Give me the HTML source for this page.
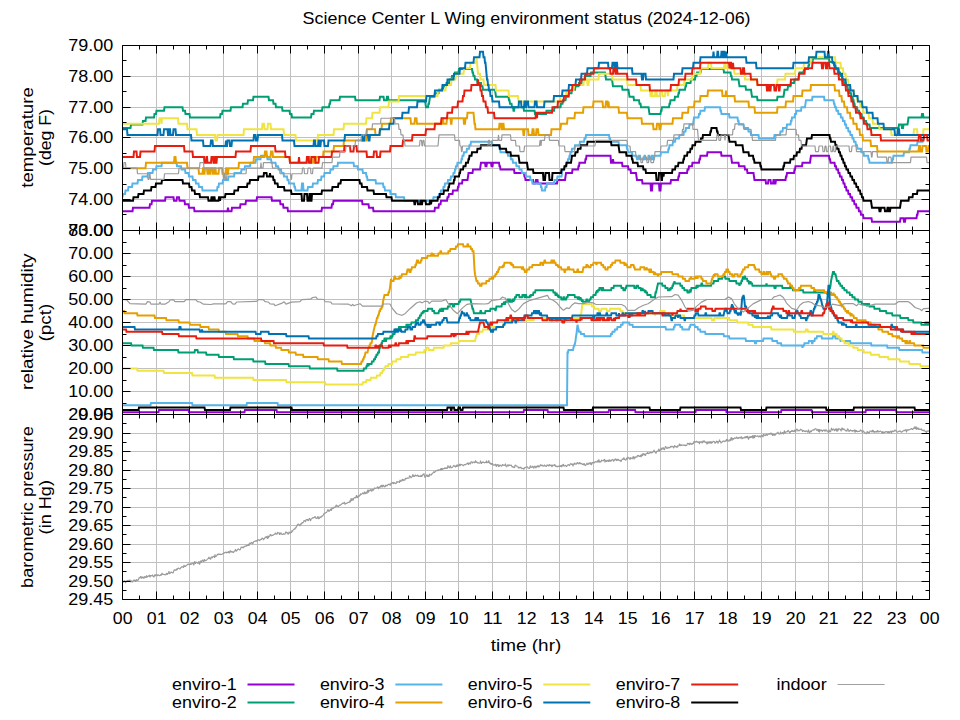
<!DOCTYPE html>
<html><head><meta charset="utf-8"><title>Science Center L Wing environment status</title>
<style>
html,body{margin:0;padding:0;background:#fff;}
body{width:960px;height:720px;overflow:hidden;font-family:"Liberation Sans",sans-serif;}
svg{display:block;}
svg text{font-family:"Liberation Sans",sans-serif;fill:#000;}
</style></head><body>
<svg width="960" height="720" viewBox="0 0 960 720">
<rect width="960" height="720" fill="#fff"/>
<path d="M156.5 45.5V230.5M189.5 45.5V230.5M223.5 45.5V230.5M257.5 45.5V230.5M290.5 45.5V230.5M324.5 45.5V230.5M358.5 45.5V230.5M391.5 45.5V230.5M425.5 45.5V230.5M458.5 45.5V230.5M492.5 45.5V230.5M526.5 45.5V230.5M559.5 45.5V230.5M593.5 45.5V230.5M627.5 45.5V230.5M660.5 45.5V230.5M694.5 45.5V230.5M727.5 45.5V230.5M761.5 45.5V230.5M795.5 45.5V230.5M828.5 45.5V230.5M862.5 45.5V230.5M896.5 45.5V230.5M122.5 76.5H929.5M122.5 107.5H929.5M122.5 137.5H929.5M122.5 168.5H929.5M122.5 199.5H929.5" stroke="#c0c0c0" stroke-width="1" fill="none"/>
<path d="M156.5 230.5V414.5M189.5 230.5V414.5M223.5 230.5V414.5M257.5 230.5V414.5M290.5 230.5V414.5M324.5 230.5V414.5M358.5 230.5V414.5M391.5 230.5V414.5M425.5 230.5V414.5M458.5 230.5V414.5M492.5 230.5V414.5M526.5 230.5V414.5M559.5 230.5V414.5M593.5 230.5V414.5M627.5 230.5V414.5M660.5 230.5V414.5M694.5 230.5V414.5M727.5 230.5V414.5M761.5 230.5V414.5M795.5 230.5V414.5M828.5 230.5V414.5M862.5 230.5V414.5M896.5 230.5V414.5M122.5 253.5H929.5M122.5 276.5H929.5M122.5 299.5H929.5M122.5 322.5H929.5M122.5 345.5H929.5M122.5 368.5H929.5M122.5 391.5H929.5" stroke="#c0c0c0" stroke-width="1" fill="none"/>
<path d="M156.5 414.5V599.5M189.5 414.5V599.5M223.5 414.5V599.5M257.5 414.5V599.5M290.5 414.5V599.5M324.5 414.5V599.5M358.5 414.5V599.5M391.5 414.5V599.5M425.5 414.5V599.5M458.5 414.5V599.5M492.5 414.5V599.5M526.5 414.5V599.5M559.5 414.5V599.5M593.5 414.5V599.5M627.5 414.5V599.5M660.5 414.5V599.5M694.5 414.5V599.5M727.5 414.5V599.5M761.5 414.5V599.5M795.5 414.5V599.5M828.5 414.5V599.5M862.5 414.5V599.5M896.5 414.5V599.5M122.5 433.5H929.5M122.5 451.5H929.5M122.5 470.5H929.5M122.5 488.5H929.5M122.5 507.5H929.5M122.5 525.5H929.5M122.5 544.5H929.5M122.5 562.5H929.5M122.5 581.5H929.5" stroke="#c0c0c0" stroke-width="1" fill="none"/>
<clipPath id="c1"><rect x="122.5" y="45.5" width="807" height="185"/></clipPath>
<clipPath id="c2"><rect x="122.5" y="230.5" width="807" height="184"/></clipPath>
<clipPath id="c3"><rect x="122.5" y="414.5" width="807" height="185"/></clipPath>
<g clip-path="url(#c1)">
<path d="M122.5 211.23H132.5L133 207.76H149.5L150 204.29H151.5L152 200.82H165L165.5 197.35H173.5L174 200.82H176.5L177 197.35H179L179.5 200.82H184.5L185 204.29H188.5L189 207.76H194L194.5 211.23H227.5L228 207.76H228L228.5 211.23H231.5L232 207.76H240L240.5 204.29H245.5L246 200.82H256.5L257 197.35H271.5L272 200.82H280L280.5 204.29H283L283.5 207.76H287.5L288 211.23H321.5L322 207.76H331.5L332 204.29H333L333.5 200.82H362L362.5 204.29H368.5L369 207.76H373L373.5 211.23H434.5L435 207.76H438.5L439 204.29H440.5L441 200.82H447L447.5 197.35H448.5L449 193.89H452.5L453 190.42H457.5L458 186.95H458.5L459 183.48H462L462.5 180.01H467.5L468 176.54H468L468.5 173.07H472.5L473 169.6H480L480.5 166.14H480.5L481 162.67H485L485.5 166.14H486.5L487 162.67H491L491.5 166.14H492.5L493 162.67H499L499.5 166.14H500L500.5 169.6H514L514.5 173.07H524L524.5 176.54H525L525.5 180.01H533L533.5 183.48H535.5L536 180.01H537.5L538 183.48H557L557.5 180.01H565L565.5 176.54H565.5L566 173.07H572L572.5 169.6H578L578.5 166.14H579L579.5 162.67H585L585.5 159.2H586L586.5 155.73H610.5L611 162.67H612.5L613 159.2H613L613.5 162.67H622L622.5 166.14H628L628.5 169.6H630.5L631 173.07H636L636.5 176.54H636.5L637 180.01H642L642.5 183.48H650.5L651 190.42H652L652.5 183.48H659L659.5 190.42H660.5L661 183.48H670.5L671 180.01H678L678.5 176.54H679L679.5 173.07H687L687.5 169.6H688.5L689 166.14H692L692.5 162.67H699L699.5 159.2H700L700.5 155.73H707L707.5 152.26H721L721.5 155.73H731L731.5 159.2H731.5L732 162.67H738.5L739 166.14H744.5L745 169.6H747L747.5 173.07H753.5L754 176.54H754L754.5 180.01H765.5L766 183.48H768L768.5 180.01H770.5L771 183.48H773L773.5 180.01H774L774.5 183.48H775.5L776 180.01H785.5L786 176.54H786.5L787 173.07H794L794.5 169.6H795L795.5 166.14H802L802.5 162.67H810L810.5 159.2H810.5L811 155.73H829L829.5 159.2H830L830.5 162.67H834.5L835 166.14H836L836.5 169.6H838L838.5 173.07H839.5L840 176.54H841.5L842 180.01H843L843.5 183.48H844.5L845 186.95H846L846.5 190.42H848L848.5 193.89H850L850.5 197.35H852L852.5 200.82H854L854.5 204.29H856L856.5 207.76H858.5L859 211.23H860.5L861 214.7H863L863.5 218.17H871.5L872 221.64H900L900.5 218.17H903.5L904 221.64H905L905.5 218.17H916.5L917 214.7H917.5L918 211.23H929.5" stroke="#9400d3" stroke-width="2" fill="none" stroke-linejoin="miter" stroke-linecap="butt"/>
<path d="M122.5 127.98H130.5L131 124.51H142.5L143 121.04H145.5L146 117.57H154L154.5 114.1H156L156.5 110.64H164L164.5 107.17H182.5L183 110.64H185L185.5 114.1H189.5L190 117.57H220L220.5 114.1H222L222.5 110.64H230.5L231 107.17H242.5L243 103.7H247.5L248 100.23H253L253.5 96.76H268.5L269 100.23H273L273.5 103.7H275.5L276 107.17H282L282.5 110.64H289.5L290 114.1H291.5L292 117.57H311L311.5 114.1H313.5L314 110.64H322L322.5 107.17H329L329.5 103.7H330L330.5 100.23H339.5L340 96.76H355L355.5 100.23H379.5L380 96.76H383.5L384 100.23H386.5L387 96.76H388L388.5 100.23H425L425.5 103.7H425.5L426 107.17H428L428.5 103.7H429L429.5 100.23H429.5L430 96.76H434.5L435 93.29H438.5L439 89.82H443L443.5 86.35H446L446.5 82.89H449L449.5 79.42H451.5L452 75.95H454.5L455 72.48H458.5L459 69.01H472L472.5 72.48H473L473.5 75.95H474.5L475 79.42H477L477.5 82.89H481L481.5 86.35H482.5L483 89.82H495L495.5 93.29H495.5L496 96.76H508.5L509 100.23H509.5L510 103.7H511.5L512 107.17H513L513.5 110.64H514L514.5 107.17H523.5L524 110.64H534.5L535 114.1H546L546.5 110.64H554L554.5 107.17H560.5L561 103.7H562.5L563 100.23H565.5L566 96.76H568.5L569 93.29H571.5L572 89.82H575L575.5 86.35H578.5L579 82.89H581.5L582 79.42H584.5L585 75.95H590.5L591 72.48H605L605.5 75.95H605.5L606 79.42H612L612.5 82.89H612.5L613 86.35H622L622.5 89.82H628.5L629 93.29H629L629.5 96.76H633.5L634 100.23H639L639.5 103.7H640.5L641 107.17H648.5L649 110.64H649L649.5 114.1H660.5L661 110.64H661.5L662 107.17H669L669.5 103.7H670L670.5 100.23H674.5L675 96.76H678L678.5 93.29H679L679.5 89.82H685L685.5 86.35H686L686.5 82.89H690.5L691 79.42H695L695.5 75.95H696.5L697 72.48H700.5L701 69.01H723.5L724 72.48H730.5L731 75.95H731.5L732 79.42H738.5L739 82.89H739L739.5 86.35H745.5L746 89.82H751L751.5 93.29H751.5L752 96.76H757L757.5 100.23H777L777.5 96.76H783.5L784 93.29H784L784.5 89.82H787.5L788 86.35H790.5L791 82.89H794L794.5 79.42H798.5L799 75.95H799L799.5 72.48H803.5L804 69.01H808L808.5 65.54H809L809.5 62.07H812.5L813 58.6H829L829.5 62.07H833.5L834 65.54H835.5L836 69.01H837.5L838 72.48H840L840.5 75.95H842L842.5 79.42H843.5L844 82.89H845.5L846 86.35H847.5L848 89.82H849.5L850 93.29H851L851.5 96.76H852.5L853 100.23H853.5L854 103.7H854.5L855 107.17H857L857.5 110.64H859L859.5 114.1H861.5L862 117.57H863.5L864 121.04H866L866.5 124.51H869.5L870 127.98H898.5L899 124.51H901.5L902 127.98H903L903.5 124.51H907.5L908 121.04H908L908.5 117.57H921.5L922 114.1H923L923.5 117.57H929.5" stroke="#009e73" stroke-width="2" fill="none" stroke-linejoin="miter" stroke-linecap="butt"/>
<path d="M122.5 197.35H122.5L123 193.89H125L125.5 190.42H128L128.5 186.95H132L132.5 183.48H137.5L138 180.01H142L142.5 176.54H147.5L148 173.07H152.5L153 169.6H156L156.5 166.14H161.5L162 162.67H176.5L177 166.14H181L181.5 169.6H185L185.5 173.07H188.5L189 176.54H192.5L193 180.01H195.5L196 183.48H198.5L199 186.95H202L202.5 190.42H217L217.5 186.95H218.5L219 183.48H222.5L223 180.01H228L228.5 176.54H234L234.5 173.07H241L241.5 169.6H244.5L245 166.14H250L250.5 162.67H255.5L256 159.2H260.5L261 155.73H267L267.5 159.2H271L271.5 162.67H275.5L276 166.14H278L278.5 169.6H281L281.5 173.07H283.5L284 176.54H287L287.5 180.01H288.5L289 183.48H294L294.5 186.95H295L295.5 190.42H301.5L302 183.48H303L303.5 190.42H307.5L308 186.95H312.5L313 183.48H317.5L318 180.01H321L321.5 176.54H324L324.5 173.07H330L330.5 169.6H333L333.5 166.14H337.5L338 162.67H353.5L354 166.14H357.5L358 169.6H362.5L363 173.07H366L366.5 176.54H367L367.5 180.01H375.5L376 183.48H383L383.5 186.95H384.5L385 190.42H390L390.5 193.89H395.5L396 197.35H404L404.5 200.82H433L433.5 197.35H438.5L439 193.89H440.5L441 190.42H443L443.5 186.95H444.5L445 183.48H447.5L448 180.01H450.5L451 176.54H453L453.5 173.07H454.5L455 169.6H455.5L456 166.14H457L457.5 162.67H461L461.5 159.2H462L462.5 155.73H463.5L464 152.26H466.5L467 148.79H469L469.5 145.32H470.5L471 141.85H492L492.5 145.32H499L499.5 148.79H500L500.5 152.26H507.5L508 155.73H510.5L511 159.2H512.5L513 162.67H516L516.5 166.14H519L519.5 169.6H521.5L522 173.07H525.5L526 176.54H530L530.5 180.01H532L532.5 183.48H540.5L541 186.95H541.5L542 190.42H545L545.5 186.95H546.5L547 183.48H554L554.5 180.01H557L557.5 176.54H561.5L562 173.07H562L562.5 169.6H564.5L565 166.14H566.5L567 162.67H567.5L568 159.2H569L569.5 155.73H570L570.5 152.26H571.5L572 148.79H574.5L575 145.32H579.5L580 141.85H584L584.5 138.39H585.5L586 134.92H609L609.5 138.39H610L610.5 141.85H618.5L619 145.32H626.5L627 148.79H627.5L628 152.26H632L632.5 155.73H636.5L637 159.2H638.5L639 155.73H640L640.5 159.2H644L644.5 155.73H645L645.5 159.2H648L648.5 155.73H649.5L650 159.2H651.5L652 155.73H652.5L653 159.2H654L654.5 155.73H660.5L661 152.26H668L668.5 148.79H669L669.5 145.32H672.5L673 141.85H675L675.5 138.39H679L679.5 134.92H683.5L684 131.45H685.5L686 127.98H689L689.5 124.51H693L693.5 121.04H693.5L694 117.57H698.5L699 114.1H700L700.5 110.64H704.5L705 107.17H720L720.5 110.64H721L721.5 114.1H729L729.5 117.57H737.5L738 121.04H738.5L739 124.51H743.5L744 127.98H748L748.5 131.45H750.5L751 134.92H758.5L759 138.39H774L774.5 134.92H780L780.5 131.45H782.5L783 127.98H786.5L787 124.51H790.5L791 121.04H791.5L792 117.57H794.5L795 114.1H796L796.5 110.64H801L801.5 107.17H805L805.5 103.7H805.5L806 100.23H812L812.5 96.76H824L824.5 100.23H833.5L834 103.7H834.5L835 107.17H836L836.5 110.64H838L838.5 114.1H840.5L841 117.57H842.5L843 121.04H844.5L845 124.51H846L846.5 127.98H848L848.5 131.45H850L850.5 134.92H852L852.5 138.39H853.5L854 141.85H855.5L856 145.32H857L857.5 148.79H861L861.5 152.26H863.5L864 155.73H868L868.5 159.2H869L869.5 162.67H892L892.5 159.2H893L893.5 155.73H903.5L904 152.26H909L909.5 148.79H910L910.5 145.32H917L917.5 141.85H922.5L923 138.39H924L924.5 134.92H929.5" stroke="#56b4e9" stroke-width="2" fill="none" stroke-linejoin="miter" stroke-linecap="butt"/>
<path d="M122.5 168.22H145.5L146 162.67H174L174.5 157.12H175.5L176 162.67H187L187.5 168.22H198.5L199 173.77H202.5L203 168.22H203.5L204 173.77H204.5L205 168.22H207L207.5 173.77H208L208.5 168.22H209L209.5 173.77H210.5L211 168.22H212.5L213 173.77H214L214.5 168.22H215.5L216 173.77H218.5L219 168.22H222L222.5 173.77H225.5L226 168.22H227L227.5 173.77H228L228.5 168.22H238.5L239 162.67H253.5L254 157.12H264.5L265 151.57H266.5L267 157.12H270.5L271 151.57H272.5L273 157.12H289.5L290 162.67H307L307.5 157.12H309.5L310 162.67H313L313.5 157.12H314.5L315 162.67H315.5L316 157.12H323L323.5 151.57H333.5L334 146.02H343.5L344 140.47H366L366.5 134.92H366.5L367 129.37H375L375.5 134.92H379.5L380 129.37H381.5L382 123.82H390.5L391 118.27H410.5L411 123.82H414.5L415 118.27H416.5L417 123.82H441.5L442 118.27H443L443.5 123.82H446.5L447 118.27H450.5L451 123.82H451.5L452 118.27H463.5L464 123.82H465L465.5 118.27H467L467.5 112.72H473.5L474 118.27H474L474.5 123.82H475L475.5 129.37H499L499.5 123.82H501L501.5 129.37H502.5L503 123.82H503.5L504 129.37H523L523.5 134.92H524L524.5 129.37H528L528.5 134.92H532L532.5 129.37H533.5L534 134.92H536L536.5 129.37H538L538.5 134.92H551L551.5 129.37H560.5L561 123.82H567L567.5 118.27H574.5L575 112.72H583L583.5 107.17H593L593.5 101.62H602.5L603 107.17H605.5L606 101.62H607.5L608 107.17H608L608.5 101.62H608.5L609 107.17H618.5L619 112.72H627L627.5 118.27H641.5L642 123.82H653L653.5 129.37H656.5L657 123.82H659L659.5 129.37H660.5L661 123.82H672.5L673 118.27H682L682.5 112.72H688L688.5 107.17H694L694.5 101.62H700L700.5 96.07H707.5L708 90.52H722L722.5 96.07H725.5L726 90.52H726L726.5 96.07H734.5L735 101.62H748.5L749 107.17H754.5L755 112.72H777L777.5 107.17H785.5L786 101.62H793L793.5 96.07H802L802.5 90.52H810.5L811 84.97H834.5L835 90.52H839L839.5 96.07H841.5L842 101.62H844L844.5 107.17H847L847.5 112.72H850L850.5 118.27H853L853.5 123.82H856.5L857 129.37H859.5L860 134.92H862.5L863 140.47H870.5L871 146.02H877L877.5 151.57H918.5L919 146.02H920L920.5 151.57H922L922.5 146.02H926L926.5 151.57H928L928.5 146.02H929.5" stroke="#e69f00" stroke-width="2" fill="none" stroke-linejoin="miter" stroke-linecap="butt"/>
<path d="M122.5 123.82H159L159.5 118.27H161L161.5 123.82H161.5L162 118.27H178L178.5 123.82H187L187.5 129.37H196.5L197 134.92H215L215.5 140.47H217L217.5 134.92H243.5L244 129.37H262L262.5 123.82H264L264.5 129.37H267.5L268 123.82H270.5L271 129.37H283.5L284 134.92H295.5L296 140.47H317.5L318 134.92H333.5L334 129.37H343.5L344 123.82H366L366.5 118.27H372L372.5 112.72H379.5L380 107.17H388.5L389 101.62H398.5L399 96.07H437.5L438 90.52H445.5L446 84.97H451L451.5 79.42H455.5L456 73.87H463.5L464 68.32H470L470.5 62.77H476L476.5 57.22H476.5L477 62.77H477L477.5 68.32H477.5L478 73.87H480L480.5 79.42H483.5L484 84.97H495.5L496 90.52H508.5L509 96.07H518L518.5 101.62H560L560.5 96.07H566L566.5 90.52H573.5L574 84.97H583.5L584 79.42H587L587.5 84.97H588.5L589 79.42H598.5L599 73.87H612L612.5 79.42H627L627.5 84.97H640.5L641 90.52H650L650.5 96.07H651.5L652 90.52H652L652.5 96.07H655L655.5 90.52H656.5L657 96.07H659.5L660 90.52H662L662.5 96.07H665L665.5 90.52H667.5L668 96.07H668L668.5 90.52H677L677.5 84.97H684L684.5 79.42H692L692.5 73.87H700L700.5 68.32H708L708.5 62.77H711L711.5 68.32H724L724.5 62.77H725.5L726 68.32H734L734.5 73.87H744.5L745 79.42H757L757.5 84.97H777L777.5 79.42H785L785.5 73.87H795L795.5 68.32H803.5L804 62.77H811L811.5 57.22H835L835.5 62.77H840.5L841 68.32H843L843.5 73.87H845.5L846 79.42H848L848.5 84.97H850.5L851 90.52H854L854.5 96.07H857L857.5 101.62H860L860.5 107.17H863L863.5 112.72H868.5L869 118.27H872.5L873 123.82H879L879.5 129.37H891L891.5 134.92H913.5L914 129.37H917L917.5 134.92H923L923.5 129.37H929.5" stroke="#f0e442" stroke-width="2" fill="none" stroke-linejoin="miter" stroke-linecap="butt"/>
<path d="M122.5 129.37H127L127.5 134.92H157.5L158 129.37H160L160.5 134.92H163.5L164 129.37H167.5L168 134.92H168.5L169 129.37H170L170.5 134.92H173L173.5 129.37H175.5L176 134.92H191L191.5 140.47H203L203.5 146.02H210.5L211 140.47H212.5L213 146.02H225.5L226 140.47H226L226.5 146.02H227L227.5 140.47H229.5L230 146.02H231.5L232 140.47H253.5L254 134.92H255.5L256 140.47H257.5L258 134.92H282L282.5 140.47H294L294.5 146.02H313.5L314 140.47H315L315.5 146.02H318L318.5 140.47H319L319.5 146.02H320.5L321 140.47H324L324.5 146.02H328L328.5 140.47H344.5L345 134.92H362L362.5 140.47H364L364.5 134.92H368L368.5 140.47H369.5L370 134.92H379.5L380 129.37H389L389.5 123.82H393.5L394 118.27H402L402.5 112.72H408.5L409 107.17H417L417.5 101.62H426L426.5 96.07H434.5L435 90.52H442L442.5 84.97H447L447.5 79.42H453.5L454 73.87H459.5L460 68.32H465L465.5 62.77H473.5L474 57.22H479.5L480 51.67H483L483.5 57.22H484.5L485 62.77H485.5L486 68.32H486L486.5 73.87H486.5L487 79.42H487.5L488 84.97H488.5L489 90.52H490L490.5 96.07H492L492.5 101.62H499L499.5 107.17H518.5L519 101.62H521L521.5 107.17H524L524.5 101.62H525L525.5 107.17H526L526.5 101.62H528L528.5 107.17H534.5L535 101.62H536.5L537 107.17H544L544.5 101.62H553.5L554 96.07H562L562.5 90.52H568.5L569 84.97H575.5L576 79.42H581L581.5 73.87H587L587.5 68.32H598.5L599 62.77H608L608.5 68.32H612L612.5 62.77H614L614.5 68.32H615.5L616 62.77H617L617.5 68.32H632L632.5 73.87H641.5L642 79.42H643L643.5 73.87H645.5L646 79.42H673.5L674 73.87H682L682.5 68.32H693L693.5 62.77H700L700.5 57.22H713L713.5 51.67H713.5L714 57.22H717L717.5 51.67H718L718.5 57.22H721L721.5 51.67H722.5L723 57.22H723.5L724 51.67H724.5L725 57.22H725.5L726 51.67H726L726.5 57.22H746L746.5 62.77H756L756.5 68.32H793L793.5 62.77H808.5L809 57.22H816L816.5 51.67H824.5L825 57.22H827.5L828 51.67H828.5L829 57.22H832L832.5 62.77H834.5L835 68.32H838.5L839 73.87H842L842.5 79.42H845.5L846 84.97H850L850.5 90.52H853.5L854 96.07H857.5L858 101.62H862L862.5 107.17H866.5L867 112.72H872.5L873 118.27H877.5L878 123.82H883.5L884 129.37H894.5L895 134.92H897.5L898 129.37H899L899.5 134.92H929.5" stroke="#0072b2" stroke-width="2" fill="none" stroke-linejoin="miter" stroke-linecap="butt"/>
<path d="M122.5 157.12H133.5L134 151.57H136.5L137 157.12H140L140.5 151.57H154.5L155 146.02H184L184.5 151.57H192.5L193 157.12H204L204.5 162.67H206L206.5 157.12H207L207.5 162.67H211L211.5 157.12H213L213.5 162.67H214.5L215 157.12H215.5L216 162.67H216.5L217 157.12H235.5L236 151.57H250.5L251 146.02H275L275.5 151.57H285L285.5 157.12H289.5L290 162.67H298.5L299 157.12H299L299.5 162.67H306.5L307 157.12H308.5L309 162.67H311L311.5 157.12H315L315.5 162.67H318.5L319 157.12H331.5L332 151.57H344L344.5 146.02H350L350.5 151.57H353.5L354 146.02H356.5L357 151.57H366.5L367 157.12H373.5L374 151.57H376.5L377 157.12H380L380.5 151.57H390L390.5 146.02H402.5L403 140.47H412L412.5 134.92H425.5L426 129.37H434.5L435 123.82H441L441.5 118.27H447L447.5 112.72H452L452.5 107.17H457.5L458 101.62H462.5L463 96.07H464L464.5 90.52H471L471.5 84.97H477.5L478 79.42H478L478.5 84.97H480L480.5 90.52H481.5L482 96.07H483L483.5 101.62H485.5L486 107.17H487.5L488 112.72H494L494.5 118.27H535.5L536 112.72H536.5L537 118.27H537L537.5 112.72H552L552.5 107.17H557.5L558 101.62H563.5L564 96.07H568.5L569 90.52H572L572.5 84.97H579.5L580 79.42H585L585.5 73.87H593.5L594 68.32H610L610.5 73.87H613L613.5 68.32H615L615.5 73.87H616.5L617 68.32H617L617.5 73.87H627L627.5 79.42H636L636.5 84.97H649.5L650 90.52H670.5L671 84.97H678.5L679 79.42H685L685.5 73.87H692L692.5 68.32H700L700.5 62.77H729L729.5 68.32H729.5L730 62.77H731L731.5 68.32H732.5L733 62.77H733L733.5 68.32H740.5L741 73.87H742.5L743 68.32H744L744.5 73.87H750.5L751 79.42H757L757.5 84.97H766.5L767 90.52H767.5L768 84.97H769L769.5 90.52H770.5L771 84.97H774L774.5 90.52H776L776.5 84.97H778.5L779 90.52H779.5L780 84.97H790.5L791 79.42H798.5L799 73.87H804.5L805 68.32H812L812.5 62.77H821.5L822 68.32H823L823.5 62.77H825.5L826 68.32H827L827.5 62.77H829L829.5 68.32H834L834.5 73.87H838.5L839 79.42H842L842.5 84.97H845.5L846 90.52H848L848.5 96.07H851L851.5 101.62H853L853.5 107.17H855.5L856 112.72H860L860.5 118.27H863.5L864 123.82H867L867.5 129.37H871L871.5 134.92H880.5L881 140.47H918.5L919 134.92H920.5L921 140.47H923.5L924 134.92H927L927.5 140.47H929.5" stroke="#e51e10" stroke-width="2" fill="none" stroke-linejoin="miter" stroke-linecap="butt"/>
<path d="M122.5 200.82H133L133.5 197.35H138L138.5 193.89H143.5L144 190.42H151L151.5 186.95H155.5L156 183.48H161.5L162 180.01H182.5L183 183.48H189L189.5 186.95H191.5L192 190.42H194.5L195 193.89H199.5L200 197.35H208L208.5 200.82H211L211.5 197.35H212L212.5 200.82H213L213.5 197.35H214.5L215 200.82H218.5L219 197.35H219.5L220 200.82H220L220.5 197.35H225L225.5 193.89H234L234.5 190.42H238L238.5 186.95H247L247.5 183.48H249.5L250 180.01H258L258.5 176.54H263.5L264 173.07H266.5L267 176.54H269.5L270 173.07H270L270.5 176.54H273L273.5 180.01H274.5L275 183.48H277.5L278 186.95H284L284.5 190.42H291L291.5 193.89H301.5L302 200.82H304L304.5 193.89H307L307.5 200.82H309L309.5 193.89H310.5L311 200.82H311.5L312 193.89H321.5L322 190.42H332L332.5 186.95H338L338.5 183.48H340.5L341 180.01H359.5L360 183.48H361.5L362 186.95H367L367.5 190.42H373.5L374 193.89H386L386.5 197.35H391.5L392 200.82H414L414.5 204.29H415L415.5 200.82H417.5L418 204.29H420L420.5 200.82H421L421.5 204.29H422L422.5 200.82H425.5L426 204.29H429.5L430 200.82H430.5L431 204.29H431L431.5 200.82H437.5L438 197.35H439.5L440 193.89H443.5L444 190.42H448L448.5 186.95H449L449.5 183.48H453.5L454 180.01H454.5L455 176.54H459L459.5 173.07H460L460.5 169.6H463L463.5 166.14H465.5L466 162.67H468L468.5 159.2H469L469.5 155.73H471.5L472 152.26H477L477.5 148.79H480.5L481 145.32H499.5L500 148.79H506L506.5 152.26H510.5L511 155.73H518.5L519 159.2H519L519.5 162.67H527L527.5 166.14H527.5L528 169.6H533L533.5 173.07H543L543.5 180.01H545L545.5 173.07H549L549.5 180.01H552L552.5 173.07H561L561.5 169.6H564L564.5 166.14H566L566.5 162.67H571L571.5 159.2H571.5L572 155.73H575L575.5 152.26H577.5L578 148.79H580.5L581 145.32H587L587.5 141.85H611L611.5 145.32H618.5L619 148.79H619L619.5 152.26H626L626.5 155.73H631.5L632 159.2H632.5L633 162.67H637.5L638 166.14H643L643.5 169.6H645.5L646 173.07H656L656.5 180.01H658.5L659 173.07H661L661.5 180.01H662L662.5 173.07H663L663.5 176.54H663.5L664 173.07H672L672.5 169.6H675L675.5 166.14H678L678.5 162.67H683L683.5 159.2H684L684.5 155.73H687L687.5 152.26H690L690.5 148.79H692L692.5 145.32H695L695.5 141.85H700.5L701 138.39H702.5L703 134.92H710L710.5 131.45H711L711.5 127.98H716.5L717 131.45H717.5L718 134.92H728.5L729 138.39H729L729.5 141.85H735.5L736 145.32H742.5L743 148.79H743L743.5 152.26H748.5L749 155.73H753L753.5 159.2H754L754.5 162.67H760L760.5 166.14H761L761.5 169.6H783L783.5 166.14H784L784.5 162.67H790L790.5 159.2H793.5L794 155.73H796.5L797 152.26H799.5L800 148.79H801.5L802 145.32H806L806.5 141.85H806.5L807 138.39H811.5L812 134.92H829.5L830 138.39H830.5L831 141.85H835L835.5 145.32H836.5L837 148.79H838.5L839 152.26H840L840.5 155.73H841.5L842 159.2H843L843.5 162.67H844.5L845 166.14H846L846.5 169.6H848L848.5 173.07H850L850.5 176.54H852L852.5 180.01H854L854.5 183.48H856L856.5 186.95H858L858.5 190.42H860L860.5 193.89H861.5L862 197.35H863L863.5 200.82H871L871.5 204.29H871.5L872 207.76H879L879.5 211.23H880.5L881 207.76H884.5L885 211.23H887L887.5 207.76H888.5L889 211.23H890L890.5 207.76H900L900.5 204.29H900.5L901 200.82H908.5L909 197.35H912.5L913 193.89H917L917.5 190.42H929.5" stroke="#000000" stroke-width="2" fill="none" stroke-linejoin="miter" stroke-linecap="butt"/>
<path d="M122.5 168.22H123.5L124 162.67H125.5L126 168.22H137L137.5 173.77H147.5L148 179.32H149L149.5 173.77H150L150.5 179.32H164L164.5 173.77H178.5L179 168.22H199.5L200 162.67H203.5L204 168.22H222.5L223 173.77H223L223.5 179.32H224L224.5 173.77H225L225.5 179.32H226.5L227 173.77H246L246.5 168.22H260.5L261 162.67H261L261.5 168.22H263L263.5 162.67H272L272.5 168.22H279.5L280 173.77H290.5L291 179.32H291.5L292 173.77H302L302.5 168.22H304L304.5 173.77H307.5L308 168.22H310.5L311 173.77H312.5L313 168.22H322L322.5 162.67H332L332.5 157.12H339.5L340 151.57H345.5L346 146.02H355L355.5 140.47H361L361.5 134.92H366L366.5 129.37H372L372.5 123.82H380.5L381 118.27H394.5L395 123.82H398.5L399 129.37H400.5L401 134.92H403L403.5 140.47H404.5L405 146.02H419.5L420 140.47H421.5L422 146.02H422.5L423 140.47H424L424.5 146.02H438L438.5 140.47H438.5L439 134.92H454.5L455 140.47H459.5L460 146.02H461L461.5 151.57H462L462.5 146.02H488L488.5 140.47H489.5L490 146.02H491.5L492 140.47H498L498.5 134.92H498.5L499 140.47H501.5L502 134.92H510.5L511 140.47H515.5L516 146.02H519.5L520 151.57H524L524.5 146.02H539.5L540 140.47H540.5L541 146.02H541L541.5 140.47H544.5L545 134.92H549L549.5 140.47H558.5L559 146.02H564.5L565 151.57H574.5L575 146.02H595L595.5 140.47H627L627.5 146.02H630L630.5 151.57H635.5L636 157.12H640.5L641 162.67H642.5L643 157.12H646.5L647 162.67H648.5L649 157.12H650.5L651 162.67H653.5L654 157.12H654.5L655 151.57H660.5L661 146.02H667L667.5 140.47H673.5L674 134.92H682L682.5 129.37H683.5L684 123.82H692.5L693 129.37H697.5L698 134.92H698L698.5 140.47H716.5L717 134.92H718.5L719 140.47H720.5L721 134.92H724.5L725 140.47H725L725.5 134.92H732.5L733 129.37H734.5L735 123.82H743.5L744 129.37H751L751.5 134.92H752L752.5 140.47H775.5L776 134.92H786L786.5 129.37H796L796.5 134.92H798.5L799 140.47H801L801.5 146.02H815L815.5 151.57H818.5L819 146.02H822.5L823 151.57H824.5L825 146.02H826L826.5 151.57H828L828.5 146.02H830.5L831 151.57H832.5L833 146.02H833.5L834 151.57H835.5L836 146.02H849L849.5 151.57H851.5L852 146.02H856L856.5 151.57H871L871.5 157.12H872L872.5 151.57H877L877.5 157.12H886.5L887 162.67H888L888.5 157.12H891L891.5 162.67H910.5L911 157.12H926.5L927 162.67H929.5" stroke="#9a9a9a" stroke-width="1.2" fill="none" stroke-linejoin="bevel" stroke-linecap="butt"/>
</g>
<path d="M122.5 230.5v-8M122.5 45.5v8M139.5 230.5v-4M139.5 45.5v4M156.5 230.5v-8M156.5 45.5v8M173.5 230.5v-4M173.5 45.5v4M189.5 230.5v-8M189.5 45.5v8M206.5 230.5v-4M206.5 45.5v4M223.5 230.5v-8M223.5 45.5v8M240.5 230.5v-4M240.5 45.5v4M257.5 230.5v-8M257.5 45.5v8M274.5 230.5v-4M274.5 45.5v4M290.5 230.5v-8M290.5 45.5v8M307.5 230.5v-4M307.5 45.5v4M324.5 230.5v-8M324.5 45.5v8M341.5 230.5v-4M341.5 45.5v4M358.5 230.5v-8M358.5 45.5v8M374.5 230.5v-4M374.5 45.5v4M391.5 230.5v-8M391.5 45.5v8M408.5 230.5v-4M408.5 45.5v4M425.5 230.5v-8M425.5 45.5v8M442.5 230.5v-4M442.5 45.5v4M458.5 230.5v-8M458.5 45.5v8M475.5 230.5v-4M475.5 45.5v4M492.5 230.5v-8M492.5 45.5v8M509.5 230.5v-4M509.5 45.5v4M526.5 230.5v-8M526.5 45.5v8M543.5 230.5v-4M543.5 45.5v4M559.5 230.5v-8M559.5 45.5v8M576.5 230.5v-4M576.5 45.5v4M593.5 230.5v-8M593.5 45.5v8M610.5 230.5v-4M610.5 45.5v4M627.5 230.5v-8M627.5 45.5v8M643.5 230.5v-4M643.5 45.5v4M660.5 230.5v-8M660.5 45.5v8M677.5 230.5v-4M677.5 45.5v4M694.5 230.5v-8M694.5 45.5v8M711.5 230.5v-4M711.5 45.5v4M727.5 230.5v-8M727.5 45.5v8M744.5 230.5v-4M744.5 45.5v4M761.5 230.5v-8M761.5 45.5v8M778.5 230.5v-4M778.5 45.5v4M795.5 230.5v-8M795.5 45.5v8M812.5 230.5v-4M812.5 45.5v4M828.5 230.5v-8M828.5 45.5v8M845.5 230.5v-4M845.5 45.5v4M862.5 230.5v-8M862.5 45.5v8M879.5 230.5v-4M879.5 45.5v4M896.5 230.5v-8M896.5 45.5v8M912.5 230.5v-4M912.5 45.5v4M929.5 230.5v-8M929.5 45.5v8M122.5 45.5h8M929.5 45.5h-8M122.5 76.5h8M929.5 76.5h-8M122.5 107.5h8M929.5 107.5h-8M122.5 137.5h8M929.5 137.5h-8M122.5 168.5h8M929.5 168.5h-8M122.5 199.5h8M929.5 199.5h-8M122.5 230.5h8M929.5 230.5h-8M122.5 214.5h4M929.5 214.5h-4M122.5 184.5h4M929.5 184.5h-4M122.5 153.5h4M929.5 153.5h-4M122.5 122.5h4M929.5 122.5h-4M122.5 91.5h4M929.5 91.5h-4M122.5 60.5h4M929.5 60.5h-4M122.5 45.5H929.5V230.5H122.5Z" stroke="#000" stroke-width="1" fill="none"/>
<g clip-path="url(#c2)">
<path d="M122.5 412.2H158.5L159 409.9H188.5L189 412.2H244.5L245 409.9H276.5L277 412.2H523.5L524 409.9H547.5L548 412.2H608.5L609 409.9H635L635.5 412.2H695.5L696 409.9H726L726.5 412.2H781L781.5 409.9H811.5L812 412.2H865.5L866 409.9H896L896.5 412.2H929.5" stroke="#9400d3" stroke-width="2" fill="none" stroke-linejoin="miter" stroke-linecap="butt"/>
<path d="M122.5 343.2H131L131.5 345.5H142.5L143 347.8H153.5L154 350.1H178L178.5 352.4H194.5L195 350.1H197.5L198 352.4H206L206.5 354.7H218.5L219 357H233.5L234 359.3H253L253.5 361.6H265L265.5 363.9H288.5L289 366.2H309.5L310 368.5H337L337.5 370.8H363.5L364 368.5H366L366.5 366.2H367L367.5 363.9H368L368.5 366.2H368.5L369 363.9H371.5L372 361.6H373.5L374 359.3H375L375.5 357H376L376.5 354.7H377.5L378 352.4H379L379.5 347.8H380L380.5 345.5H381L381.5 343.2H382L382.5 340.9H384L384.5 338.6H385L385.5 340.9H386L386.5 338.6H390L390.5 336.3H391L391.5 338.6H391.5L392 336.3H392.5L393 334H394.5L395 331.7H395L395.5 329.4H396L396.5 331.7H396.5L397 329.4H398.5L399 327.1H400L400.5 329.4H400.5L401 327.1H406L406.5 324.8H407L407.5 327.1H408L408.5 324.8H411L411.5 322.5H415.5L416 320.2H418L418.5 317.9H419.5L420 315.6H421L421.5 313.3H422.5L423 311H423L423.5 313.3H423.5L424 311H427.5L428 308.7H432L432.5 311H434L434.5 313.3H438.5L439 311H439.5L440 308.7H440L440.5 311H441L441.5 308.7H442L442.5 311H443L443.5 308.7H447.5L448 306.4H449.5L450 304.1H452.5L453 306.4H454L454.5 304.1H458.5L459 301.8H460L460.5 299.5H470.5L471 301.8H471L471.5 304.1H471.5L472 306.4H472L472.5 308.7H473L473.5 311H473.5L474 313.3H480L480.5 311H481L481.5 313.3H485L485.5 311H490L490.5 308.7H495L495.5 311H495.5L496 308.7H496L496.5 306.4H501.5L502 304.1H503.5L504 301.8H504L504.5 304.1H505L505.5 301.8H507L507.5 299.5H508L508.5 301.8H509L509.5 299.5H510L510.5 301.8H512L512.5 299.5H513L513.5 301.8H513.5L514 299.5H514.5L515 297.2H516L516.5 294.9H519L519.5 297.2H522L522.5 294.9H524L524.5 297.2H525L525.5 294.9H526L526.5 297.2H529.5L530 294.9H530L530.5 297.2H530.5L531 294.9H533L533.5 292.6H535L535.5 290.3H553L553.5 292.6H555L555.5 294.9H556L556.5 292.6H556.5L557 294.9H557.5L558 297.2H558L558.5 294.9H558.5L559 297.2H561L561.5 299.5H563L563.5 297.2H564L564.5 299.5H566L566.5 297.2H567.5L568 294.9H574.5L575 297.2H577.5L578 299.5H578L578.5 297.2H579L579.5 299.5H580L580.5 297.2H580.5L581 299.5H581.5L582 301.8H582L582.5 299.5H582.5L583 301.8H586L586.5 299.5H587L587.5 301.8H589L589.5 299.5H590.5L591 297.2H593L593.5 294.9H595.5L596 292.6H596.5L597 290.3H597L597.5 292.6H597.5L598 290.3H599L599.5 288H601L601.5 290.3H602L602.5 288H603L603.5 290.3H611L611.5 288H613.5L614 285.7H621L621.5 288H623L623.5 290.3H625L625.5 288H626L626.5 285.7H634L634.5 288H636L636.5 285.7H638L638.5 288H640.5L641 290.3H642L642.5 288H642.5L643 290.3H644.5L645 292.6H645L645.5 290.3H645.5L646 292.6H647L647.5 294.9H650.5L651 297.2H655L655.5 292.6H656L656.5 290.3H656.5L657 288H657L657.5 285.7H657.5L658 283.4H662L662.5 285.7H665L665.5 288H667.5L668 290.3H669.5L670 288H670L670.5 290.3H670.5L671 288H672L672.5 285.7H673L673.5 283.4H674L674.5 281.1H674.5L675 283.4H680L680.5 285.7H682L682.5 288H684L684.5 290.3H687L687.5 292.6H689L689.5 290.3H690L690.5 292.6H690.5L691 290.3H691L691.5 288H696L696.5 285.7H697L697.5 288H697.5L698 285.7H701L701.5 283.4H702L702.5 285.7H711L711.5 283.4H713.5L714 281.1H718L718.5 278.8H722L722.5 276.5H725L725.5 278.8H729L729.5 281.1H736L736.5 283.4H739L739.5 285.7H739.5L740 283.4H741L741.5 281.1H742L742.5 278.8H742.5L743 276.5H743L743.5 278.8H744L744.5 276.5H745L745.5 278.8H747L747.5 281.1H748.5L749 283.4H750L750.5 281.1H750.5L751 283.4H752L752.5 285.7H766L766.5 283.4H766.5L767 285.7H774L774.5 288H775.5L776 285.7H782L782.5 288H790L790.5 285.7H791L791.5 288H792.5L793 290.3H803L803.5 292.6H814L814.5 290.3H815L815.5 292.6H827L827.5 294.9H827.5L828 292.6H828L828.5 290.3H829L829.5 288H830L830.5 285.7H830.5L831 281.1H831L831.5 278.8H831.5L832 276.5H832L832.5 274.2H832.5L833 271.9H834L834.5 274.2H835.5L836 276.5H836L836.5 278.8H836.5L837 281.1H838.5L839 283.4H840L840.5 285.7H842L842.5 288H844L844.5 290.3H846.5L847 292.6H849.5L850 294.9H852L852.5 297.2H854.5L855 299.5H858L858.5 301.8H861.5L862 304.1H866.5L867 306.4H867L867.5 304.1H869L869.5 306.4H874L874.5 308.7H879.5L880 311H886L886.5 313.3H892L892.5 315.6H900L900.5 317.9H908L908.5 320.2H913L913.5 322.5H921L921.5 324.8H925L925.5 322.5H926L926.5 324.8H927L927.5 322.5H928L928.5 324.8H929.5" stroke="#009e73" stroke-width="2" fill="none" stroke-linejoin="miter" stroke-linecap="butt"/>
<path d="M122.5 405.3H150.5L151 403H192L192.5 405.3H246.5L247 403H277.5L278 405.3H567L567.5 352.4H568L568.5 350.1H573L573.5 347.8H573.5L574 345.5H574.5L575 343.2H575L575.5 340.9H575.5L576 336.3H576L576.5 334H576.5L577 329.4H577L577.5 324.8H577.5L578 327.1H578L578.5 329.4H578.5L579 331.7H580.5L581 334H584L584.5 336.3H610.5L611 334H612L612.5 331.7H614.5L615 329.4H617L617.5 327.1H620.5L621 324.8H622.5L623 322.5H629L629.5 324.8H632.5L633 327.1H665.5L666 329.4H673.5L674 327.1H674.5L675 324.8H680L680.5 327.1H682L682.5 329.4H689L689.5 327.1H690L690.5 324.8H694.5L695 327.1H697.5L698 329.4H700L700.5 331.7H705L705.5 334H723.5L724 336.3H729L729.5 338.6H745.5L746 340.9H754.5L755 343.2H756L756.5 340.9H763L763.5 338.6H772L772.5 340.9H777L777.5 343.2H781L781.5 345.5H802L802.5 347.8H802.5L803 345.5H804L804.5 343.2H808.5L809 340.9H811.5L812 343.2H812.5L813 340.9H814.5L815 338.6H816.5L817 336.3H821.5L822 338.6H832.5L833 336.3H835L835.5 338.6H840L840.5 340.9H850L850.5 343.2H871L871.5 345.5H887L887.5 347.8H899L899.5 350.1H922L922.5 352.4H929.5" stroke="#56b4e9" stroke-width="2" fill="none" stroke-linejoin="miter" stroke-linecap="butt"/>
<path d="M122.5 311H124L124.5 313.3H137L137.5 315.6H154.5L155 317.9H166L166.5 320.2H178.5L179 322.5H189.5L190 324.8H200L200.5 327.1H208.5L209 329.4H218.5L219 331.7H225.5L226 334H237.5L238 336.3H247.5L248 338.6H254L254.5 340.9H264.5L265 343.2H270L270.5 345.5H275.5L276 347.8H281L281.5 350.1H288.5L289 352.4H295.5L296 354.7H303L303.5 357H317.5L318 359.3H328.5L329 361.6H341.5L342 363.9H361L361.5 361.6H362.5L363 359.3H363.5L364 357H364.5L365 354.7H365L365.5 352.4H367.5L368 350.1H368L368.5 347.8H369L369.5 345.5H370L370.5 343.2H371.5L372 340.9H372L372.5 336.3H372.5L373 334H373L373.5 331.7H373.5L374 329.4H374L374.5 327.1H374.5L375 324.8H375.5L376 322.5H376L376.5 320.2H376.5L377 317.9H377.5L378 315.6H378.5L379 313.3H379L379.5 311H380L380.5 308.7H381.5L382 306.4H382.5L383 301.8H383L383.5 299.5H383.5L384 297.2H384L384.5 294.9H388L388.5 292.6H389L389.5 290.3H389.5L390 288H390L390.5 283.4H390.5L391 278.8H391L391.5 281.1H393.5L394 278.8H394L394.5 276.5H395L395.5 278.8H399L399.5 276.5H400L400.5 278.8H400.5L401 276.5H401.5L402 274.2H406.5L407 271.9H407L407.5 269.6H409L409.5 271.9H410.5L411 269.6H411.5L412 267.3H415L415.5 265H416L416.5 262.7H416.5L417 260.4H418L418.5 262.7H420.5L421 260.4H421.5L422 258.1H427L427.5 255.8H431L431.5 253.5H432L432.5 255.8H433L433.5 253.5H433.5L434 255.8H438L438.5 253.5H440L440.5 251.2H441L441.5 253.5H448L448.5 251.2H450L450.5 248.9H455.5L456 246.6H457.5L458 244.3H463L463.5 246.6H467L467.5 244.3H468L468.5 246.6H470.5L471 248.9H472L472.5 251.2H473.5L474 260.4H474L474.5 269.6H474.5L475 274.2H475L475.5 276.5H475.5L476 278.8H476L476.5 281.1H477.5L478 283.4H479.5L480 285.7H481.5L482 283.4H486L486.5 281.1H489L489.5 278.8H491.5L492 276.5H492L492.5 278.8H493L493.5 276.5H495L495.5 274.2H496.5L497 271.9H498L498.5 269.6H499L499.5 267.3H502.5L503 265H503L503.5 267.3H503.5L504 265H504L504.5 262.7H510.5L511 265H511L511.5 262.7H511.5L512 265H513L513.5 267.3H521.5L522 269.6H522L522.5 267.3H523L523.5 269.6H524.5L525 271.9H526.5L527 269.6H529L529.5 267.3H532L532.5 265H540L540.5 262.7H542L542.5 265H543L543.5 262.7H544L544.5 260.4H545L545.5 262.7H551L551.5 260.4H552L552.5 262.7H553L553.5 260.4H554L554.5 262.7H555.5L556 265H557.5L558 267.3H558L558.5 265H558.5L559 267.3H561L561.5 269.6H564L564.5 271.9H565L565.5 269.6H567.5L568 267.3H569L569.5 269.6H573.5L574 271.9H577L577.5 269.6H578L578.5 271.9H582.5L583 269.6H583L583.5 267.3H586L586.5 265H587L587.5 267.3H587.5L588 265H588L588.5 267.3H590.5L591 265H593L593.5 262.7H596L596.5 265H596.5L597 262.7H601L601.5 265H603L603.5 267.3H605L605.5 269.6H607.5L608 267.3H610.5L611 265H612L612.5 262.7H615L615.5 260.4H620L620.5 262.7H624L624.5 265H625L625.5 262.7H625.5L626 265H627L627.5 267.3H630.5L631 265H633.5L634 267.3H634.5L635 269.6H640L640.5 267.3H644L644.5 269.6H646L646.5 267.3H646.5L647 269.6H649L649.5 271.9H650L650.5 269.6H651L651.5 271.9H653.5L654 274.2H654.5L655 271.9H655L655.5 274.2H657.5L658 276.5H658L658.5 274.2H661L661.5 271.9H672L672.5 274.2H678L678.5 276.5H682.5L683 278.8H685L685.5 281.1H689L689.5 278.8H690.5L691 276.5H691L691.5 278.8H694.5L695 276.5H695L695.5 278.8H695.5L696 276.5H697L697.5 278.8H697.5L698 276.5H701L701.5 278.8H702.5L703 281.1H706L706.5 283.4H711L711.5 281.1H711.5L712 278.8H712.5L713 276.5H713.5L714 274.2H714L714.5 276.5H714.5L715 274.2H717.5L718 276.5H723L723.5 274.2H724.5L725 271.9H726L726.5 269.6H728L728.5 271.9H729.5L730 274.2H732L732.5 276.5H734L734.5 274.2H737.5L738 276.5H740L740.5 274.2H741.5L742 271.9H742.5L743 269.6H744.5L745 267.3H748L748.5 265H754L754.5 267.3H755L755.5 269.6H759L759.5 271.9H761L761.5 274.2H763L763.5 271.9H764L764.5 274.2H766L766.5 271.9H767L767.5 274.2H768L768.5 271.9H770L770.5 274.2H771L771.5 276.5H773.5L774 278.8H775L775.5 276.5H778L778.5 274.2H782L782.5 276.5H783.5L784 278.8H786.5L787 281.1H787.5L788 283.4H790L790.5 285.7H792L792.5 288H793.5L794 290.3H798.5L799 288H800.5L801 285.7H811L811.5 288H814L814.5 290.3H824L824.5 292.6H829.5L830 294.9H830L830.5 292.6H831L831.5 294.9H833L833.5 292.6H833.5L834 294.9H835L835.5 297.2H837L837.5 299.5H838.5L839 301.8H840L840.5 304.1H841.5L842 306.4H843.5L844 308.7H845L845.5 311H846.5L847 313.3H847L847.5 311H848L848.5 313.3H850L850.5 315.6H851L851.5 313.3H851.5L852 315.6H853.5L854 317.9H856.5L857 320.2H862L862.5 322.5H863L863.5 320.2H865.5L866 322.5H870.5L871 324.8H875L875.5 327.1H878L878.5 329.4H882L882.5 331.7H888L888.5 334H892L892.5 336.3H896.5L897 338.6H897L897.5 336.3H899L899.5 338.6H902L902.5 340.9H905L905.5 343.2H906L906.5 340.9H907L907.5 343.2H909L909.5 340.9H910L910.5 343.2H914L914.5 345.5H923L923.5 347.8H929.5" stroke="#e69f00" stroke-width="2" fill="none" stroke-linejoin="miter" stroke-linecap="butt"/>
<path d="M122.5 368.5H137L137.5 370.8H163.5L164 373.1H192L192.5 375.4H214.5L215 377.7H253L253.5 380H286L286.5 382.3H325L325.5 384.6H362.5L363 382.3H366L366.5 380H370.5L371 377.7H376.5L377 375.4H380L380.5 373.1H382L382.5 370.8H383.5L384 368.5H385L385.5 366.2H388L388.5 363.9H392L392.5 361.6H396L396.5 359.3H400.5L401 357H408L408.5 354.7H415.5L416 352.4H424L424.5 350.1H426L426.5 347.8H428.5L429 350.1H433.5L434 347.8H443.5L444 345.5H450.5L451 343.2H458.5L459 340.9H475L475.5 338.6H475.5L476 336.3H476.5L477 334H479L479.5 331.7H482.5L483 329.4H489.5L490 327.1H503L503.5 324.8H503.5L504 322.5H504.5L505 320.2H533.5L534 317.9H546.5L547 320.2H567L567.5 317.9H579.5L580 315.6H581L581.5 311H581.5L582 306.4H582L582.5 304.1H591.5L592 306.4H594L594.5 308.7H598.5L599 311H601L601.5 308.7H606.5L607 311H609.5L610 308.7H620L620.5 311H622.5L623 313.3H654.5L655 315.6H655L655.5 313.3H659.5L660 311H664.5L665 313.3H668.5L669 315.6H684L684.5 317.9H711.5L712 320.2H714L714.5 317.9H729L729.5 320.2H737L737.5 322.5H748L748.5 324.8H752.5L753 327.1H771L771.5 329.4H793.5L794 331.7H805.5L806 329.4H807.5L808 331.7H823L823.5 334H832.5L833 331.7H833.5L834 334H836.5L837 336.3H839L839.5 338.6H841.5L842 340.9H844L844.5 343.2H848.5L849 345.5H853L853.5 347.8H857.5L858 350.1H863.5L864 352.4H870.5L871 354.7H879L879.5 357H888L888.5 359.3H899.5L900 361.6H909L909.5 363.9H920L920.5 366.2H929.5" stroke="#f0e442" stroke-width="2" fill="none" stroke-linejoin="miter" stroke-linecap="butt"/>
<path d="M122.5 327.1H134.5L135 329.4H179L179.5 327.1H180.5L181 329.4H199.5L200 331.7H201.5L202 329.4H202L202.5 331.7H255.5L256 334H260.5L261 331.7H268.5L269 334H286L286.5 336.3H308.5L309 338.6H376L376.5 336.3H377.5L378 334H383L383.5 331.7H394L394.5 329.4H395L395.5 331.7H396L396.5 329.4H397L397.5 331.7H398L398.5 329.4H400L400.5 331.7H400.5L401 329.4H401L401.5 331.7H405L405.5 329.4H407.5L408 327.1H410L410.5 329.4H412L412.5 327.1H415L415.5 324.8H416L416.5 322.5H418L418.5 324.8H420.5L421 322.5H422.5L423 320.2H424L424.5 322.5H425L425.5 324.8H427L427.5 327.1H428L428.5 324.8H429L429.5 327.1H430.5L431 324.8H436L436.5 322.5H439L439.5 324.8H440L440.5 322.5H442L442.5 320.2H443.5L444 317.9H446.5L447 320.2H447L447.5 322.5H458.5L459 320.2H459L459.5 317.9H460L460.5 315.6H461L461.5 313.3H461.5L462 311H462L462.5 313.3H464L464.5 315.6H466L466.5 313.3H467L467.5 315.6H468.5L469 317.9H470L470.5 320.2H475L475.5 317.9H476L476.5 320.2H477L477.5 317.9H478L478.5 320.2H486L486.5 322.5H487.5L488 324.8H488.5L489 327.1H489.5L490 329.4H490.5L491 331.7H491.5L492 329.4H492L492.5 331.7H493L493.5 329.4H496L496.5 327.1H503L503.5 324.8H504.5L505 322.5H512L512.5 320.2H515L515.5 322.5H516L516.5 320.2H522L522.5 317.9H524L524.5 315.6H531.5L532 313.3H533.5L534 311H535L535.5 313.3H536L536.5 311H537L537.5 313.3H538L538.5 311H539L539.5 313.3H539.5L540 315.6H540L540.5 313.3H541L541.5 315.6H547L547.5 317.9H551L551.5 320.2H552L552.5 317.9H556L556.5 320.2H557L557.5 317.9H559.5L560 320.2H560L560.5 317.9H564L564.5 320.2H565L565.5 317.9H572L572.5 315.6H593L593.5 317.9H594L594.5 315.6H597L597.5 313.3H598L598.5 315.6H599L599.5 313.3H600L600.5 315.6H606L606.5 313.3H607L607.5 315.6H611L611.5 313.3H616L616.5 315.6H618.5L619 313.3H619L619.5 315.6H622L622.5 313.3H623L623.5 315.6H625L625.5 313.3H629L629.5 315.6H630L630.5 313.3H631L631.5 315.6H632L632.5 313.3H642L642.5 311H643L643.5 313.3H644.5L645 311H645L645.5 313.3H648L648.5 311H652.5L653 313.3H664L664.5 315.6H665L665.5 313.3H665.5L666 315.6H668L668.5 313.3H668.5L669 315.6H670.5L671 317.9H671L671.5 320.2H672L672.5 317.9H675L675.5 315.6H677.5L678 317.9H678L678.5 315.6H680L680.5 317.9H684L684.5 320.2H685L685.5 317.9H694L694.5 315.6H695.5L696 313.3H698L698.5 315.6H705L705.5 313.3H706L706.5 315.6H719L719.5 313.3H720L720.5 315.6H723.5L724 313.3H724L724.5 311H725L725.5 308.7H726.5L727 311H727L727.5 313.3H729.5L730 311H730.5L731 308.7H731L731.5 306.4H731.5L732 304.1H732L732.5 306.4H733L733.5 308.7H734L734.5 311H734.5L735 313.3H735L735.5 311H736L736.5 313.3H737.5L738 315.6H738L738.5 313.3H740L740.5 315.6H740.5L741 313.3H741L741.5 306.4H741.5L742 299.5H742L742.5 297.2H743L743.5 294.9H743.5L744 297.2H744L744.5 301.8H744.5L745 306.4H746L746.5 308.7H747.5L748 311H749L749.5 313.3H752L752.5 315.6H754.5L755 317.9H755L755.5 315.6H756L756.5 317.9H757L757.5 315.6H758L758.5 317.9H767.5L768 315.6H768L768.5 317.9H770L770.5 315.6H772L772.5 313.3H778L778.5 315.6H779.5L780 317.9H780L780.5 315.6H781L781.5 317.9H787L787.5 315.6H787.5L788 313.3H789L789.5 315.6H792L792.5 317.9H794.5L795 315.6H795L795.5 313.3H795.5L796 311H797.5L798 313.3H799L799.5 315.6H800.5L801 317.9H805.5L806 320.2H806.5L807 317.9H807.5L808 315.6H809.5L810 313.3H810L810.5 311H811L811.5 313.3H811.5L812 315.6H812.5L813 313.3H813L813.5 311H813.5L814 308.7H814.5L815 306.4H815.5L816 304.1H816.5L817 301.8H817.5L818 299.5H818L818.5 294.9H819.5L820 297.2H820L820.5 299.5H821L821.5 301.8H821.5L822 304.1H822L822.5 306.4H823L823.5 308.7H826L826.5 306.4H826.5L827 304.1H827L827.5 297.2H827.5L828 292.6H828L828.5 285.7H829L829.5 294.9H829.5L830 304.1H830L830.5 306.4H831L831.5 308.7H831.5L832 311H833L833.5 313.3H833.5L834 315.6H835L835.5 317.9H837L837.5 320.2H838L838.5 322.5H841.5L842 324.8H843L843.5 322.5H843.5L844 324.8H846L846.5 327.1H855.5L856 324.8H856.5L857 327.1H891L891.5 324.8H892L892.5 327.1H895L895.5 329.4H901L901.5 331.7H902L902.5 329.4H903L903.5 331.7H914L914.5 334H915L915.5 331.7H929.5" stroke="#0072b2" stroke-width="2" fill="none" stroke-linejoin="miter" stroke-linecap="butt"/>
<path d="M122.5 329.4H126L126.5 331.7H162L162.5 334H178.5L179 336.3H196L196.5 338.6H261L261.5 340.9H273.5L274 343.2H323.5L324 345.5H347L347.5 347.8H375L375.5 345.5H376L376.5 347.8H377.5L378 345.5H378L378.5 347.8H379L379.5 345.5H382L382.5 347.8H388.5L389 345.5H390L390.5 347.8H390.5L391 345.5H395L395.5 343.2H396L396.5 345.5H398.5L399 343.2H406L406.5 340.9H407L407.5 343.2H408L408.5 340.9H414L414.5 336.3H415L415.5 338.6H427L427.5 336.3H451L451.5 334H453L453.5 336.3H454L454.5 334H455L455.5 336.3H455.5L456 334H466L466.5 331.7H467L467.5 334H468.5L469 331.7H478L478.5 329.4H478.5L479 327.1H479L479.5 324.8H479.5L480 322.5H483.5L484 324.8H484L484.5 327.1H488L488.5 329.4H488.5L489 327.1H489L489.5 324.8H490L490.5 322.5H491L491.5 324.8H492L492.5 322.5H497L497.5 320.2H506L506.5 317.9H507L507.5 320.2H508L508.5 317.9H510L510.5 315.6H511L511.5 317.9H512L512.5 320.2H513L513.5 317.9H517L517.5 320.2H518L518.5 317.9H523L523.5 320.2H524L524.5 317.9H525L525.5 315.6H527.5L528 317.9H542L542.5 320.2H547L547.5 317.9H549L549.5 320.2H562L562.5 322.5H564L564.5 320.2H571L571.5 317.9H572L572.5 320.2H576L576.5 322.5H576.5L577 320.2H580L580.5 317.9H581L581.5 320.2H581.5L582 317.9H591L591.5 320.2H592L592.5 317.9H593L593.5 320.2H596L596.5 317.9H597L597.5 320.2H598L598.5 317.9H599L599.5 320.2H600L600.5 317.9H602L602.5 320.2H603L603.5 317.9H604L604.5 320.2H607L607.5 317.9H608L608.5 320.2H609L609.5 317.9H611L611.5 320.2H613.5L614 317.9H614L614.5 320.2H615L615.5 317.9H619L619.5 315.6H628L628.5 317.9H628.5L629 315.6H629L629.5 317.9H629.5L630 315.6H637L637.5 313.3H638L638.5 315.6H639L639.5 313.3H640L640.5 315.6H645L645.5 313.3H662L662.5 315.6H663L663.5 313.3H672L672.5 315.6H672.5L673 313.3H677L677.5 311H680L680.5 308.7H680.5L681 311H687L687.5 308.7H695L695.5 311H696L696.5 308.7H696.5L697 311H698L698.5 308.7H700.5L701 306.4H705.5L706 308.7H712L712.5 311H715L715.5 308.7H746L746.5 311H747.5L748 313.3H748L748.5 311H753L753.5 313.3H754L754.5 311H755L755.5 313.3H771L771.5 311H771.5L772 308.7H772.5L773 306.4H773.5L774 308.7H783L783.5 311H786L786.5 313.3H788L788.5 311H789L789.5 313.3H801L801.5 311H802L802.5 313.3H811L811.5 315.6H822.5L823 313.3H824L824.5 311H824.5L825 308.7H825.5L826 306.4H826L826.5 304.1H827.5L828 301.8H828L828.5 306.4H828.5L829 308.7H830L830.5 311H832L832.5 313.3H834L834.5 315.6H836.5L837 317.9H843L843.5 320.2H850.5L851 322.5H851L851.5 320.2H852L852.5 322.5H868L868.5 324.8H880L880.5 327.1H890.5L891 329.4H896L896.5 327.1H897L897.5 329.4H900.5L901 331.7H901L901.5 329.4H902.5L903 331.7H911L911.5 334H913L913.5 331.7H914L914.5 334H929.5" stroke="#e51e10" stroke-width="2" fill="none" stroke-linejoin="miter" stroke-linecap="butt"/>
<path d="M122.5 409.9H138.5L139 407.6H204.5L205 409.9H230L230.5 407.6H291.5L292 409.9H447L447.5 407.6H450.5L451 409.9H451.5L452 407.6H454L454.5 409.9H458L458.5 407.6H460L460.5 409.9H462.5L463 407.6H563.5L564 409.9H592.5L593 407.6H649.5L650 409.9H680L680.5 407.6H740.5L741 409.9H766L766.5 407.6H826L826.5 409.9H853.5L854 407.6H914.5L915 409.9H929.5" stroke="#000000" stroke-width="2" fill="none" stroke-linejoin="miter" stroke-linecap="butt"/>
<path d="M122.5 299.5L126.5 300.0L127.0 300.4L130.0 303.7L145.5 304.2L146.0 303.9L147.5 301.7L150.0 302.0L150.5 303.3L151.0 304.2L159.0 304.2L159.5 303.3L160.0 302.0L160.5 303.3L161.0 304.2L165.0 304.2L169.0 301.8L169.5 301.0L170.0 300.0L173.0 299.7L173.5 299.9L175.0 301.7L184.0 301.7L184.5 301.3L185.5 300.1L186.0 299.7L195.5 299.7L196.0 299.9L197.5 301.7L200.0 302.0L203.0 304.0L203.5 304.2L210.5 304.5L211.0 304.5L213.5 303.8L225.5 303.8L226.0 303.6L227.5 301.7L230.5 301.7L231.0 301.9L232.5 303.8L235.0 304.2L236.5 302.2L237.0 302.0L256.5 301.3L257.0 301.0L258.0 300.0L258.5 299.7L263.0 299.7L263.5 299.9L265.0 301.7L268.0 302.0L268.5 302.2L270.0 303.8L274.0 304.1L275.0 305.8L281.5 303.4L284.0 301.8L284.5 302.2L285.5 303.7L286.0 304.1L291.5 302.1L300.0 301.7L301.5 299.9L302.0 299.6L310.5 299.2L311.0 299.0L312.5 297.5L315.5 297.1L316.0 297.2L317.5 299.2L324.0 299.5L324.5 300.4L325.0 301.7L330.5 302.0L331.0 302.3L332.0 303.8L348.0 304.2L348.5 304.2L351.5 305.8L352.0 305.2L352.5 304.2L354.0 305.8L355.0 305.3L360.0 303.7L362.5 306.2L381.5 306.2L382.0 305.7L383.0 304.4L383.5 304.0L390.0 304.0L392.5 308.7L396.5 313.5L397.0 313.8L401.5 315.3L402.0 315.2L405.0 313.7L410.0 308.7L416.5 303.0L417.0 302.7L420.0 301.7L421.5 302.7L422.0 302.7L425.0 301.2L428.0 301.6L428.5 302.1L429.0 303.3L429.5 303.3L431.5 301.3L432.0 301.2L441.5 301.2L445.5 299.6L446.0 299.8L448.0 303.1L448.5 303.9L453.0 309.9L453.5 310.5L457.5 313.7L461.5 308.9L466.5 304.6L467.0 304.4L471.5 303.7L485.0 304.0L488.0 303.7L488.5 303.5L491.5 300.5L492.0 300.3L500.0 299.5L502.5 297.0L504.0 297.8L505.0 297.8L511.5 309.2L512.0 309.8L515.0 312.0L518.0 309.8L518.5 309.3L523.0 304.1L523.5 303.6L530.0 300.3L547.5 295.3L549.0 298.3L549.5 298.8L553.0 300.2L553.5 300.5L556.5 302.7L557.0 303.2L560.0 307.0L563.0 310.0L563.5 310.2L566.5 308.0L567.0 307.9L569.0 308.6L569.5 308.2L571.5 305.6L572.0 305.1L575.0 302.8L578.5 303.7L583.0 303.7L583.5 303.6L588.0 302.1L588.5 302.0L593.0 302.8L593.5 302.9L595.5 304.3L596.0 304.5L621.5 304.5L622.0 304.7L625.0 306.2L627.5 310.3L635.0 310.3L638.5 307.8L643.5 305.3L648.0 303.8L648.5 303.5L654.0 299.5L655.0 298.7L658.0 297.2L658.5 297.0L671.5 296.7L672.0 296.4L675.0 294.5L678.0 295.2L678.5 295.6L681.5 300.1L682.0 301.0L685.0 307.0L688.0 310.8L688.5 311.1L693.0 310.4L693.5 310.1L696.5 306.4L701.5 302.1L706.5 299.6L707.0 299.5L725.0 299.5L728.0 297.2L728.5 297.1L731.5 298.6L732.0 299.3L734.0 303.3L734.5 304.1L738.0 308.3L738.5 308.8L743.0 311.8L743.5 311.9L753.0 303.9L753.5 303.6L761.5 299.6L762.0 299.5L771.5 299.5L772.0 299.1L774.0 296.8L775.0 296.7L780.0 295.0L783.0 297.2L783.5 297.8L786.5 303.0L787.0 303.7L791.5 308.2L792.0 308.4L796.5 309.9L797.0 309.5L800.0 305.0L803.0 302.8L803.5 302.5L808.0 301.7L808.5 301.7L811.5 302.5L812.0 302.8L815.0 305.0L820.0 305.8L825.0 307.5L830.0 306.7L832.5 304.2L841.5 305.8L842.0 305.5L844.0 303.8L844.5 303.7L853.0 303.7L853.5 303.8L856.5 305.7L857.0 305.4L858.0 304.1L858.5 303.7L861.5 304.9L868.0 305.8L868.5 305.8L875.0 304.2L895.0 304.2L898.0 301.9L898.5 301.7L908.0 301.7L908.5 301.8L911.5 304.0L915.0 307.5L920.0 309.2L921.5 310.7L922.0 310.4L923.0 309.1L923.5 308.7L929.5 308.4" stroke="#9a9a9a" stroke-width="1.2" fill="none" stroke-linejoin="bevel" stroke-linecap="butt"/>
</g>
<path d="M122.5 414.5v-8M122.5 230.5v8M139.5 414.5v-4M139.5 230.5v4M156.5 414.5v-8M156.5 230.5v8M173.5 414.5v-4M173.5 230.5v4M189.5 414.5v-8M189.5 230.5v8M206.5 414.5v-4M206.5 230.5v4M223.5 414.5v-8M223.5 230.5v8M240.5 414.5v-4M240.5 230.5v4M257.5 414.5v-8M257.5 230.5v8M274.5 414.5v-4M274.5 230.5v4M290.5 414.5v-8M290.5 230.5v8M307.5 414.5v-4M307.5 230.5v4M324.5 414.5v-8M324.5 230.5v8M341.5 414.5v-4M341.5 230.5v4M358.5 414.5v-8M358.5 230.5v8M374.5 414.5v-4M374.5 230.5v4M391.5 414.5v-8M391.5 230.5v8M408.5 414.5v-4M408.5 230.5v4M425.5 414.5v-8M425.5 230.5v8M442.5 414.5v-4M442.5 230.5v4M458.5 414.5v-8M458.5 230.5v8M475.5 414.5v-4M475.5 230.5v4M492.5 414.5v-8M492.5 230.5v8M509.5 414.5v-4M509.5 230.5v4M526.5 414.5v-8M526.5 230.5v8M543.5 414.5v-4M543.5 230.5v4M559.5 414.5v-8M559.5 230.5v8M576.5 414.5v-4M576.5 230.5v4M593.5 414.5v-8M593.5 230.5v8M610.5 414.5v-4M610.5 230.5v4M627.5 414.5v-8M627.5 230.5v8M643.5 414.5v-4M643.5 230.5v4M660.5 414.5v-8M660.5 230.5v8M677.5 414.5v-4M677.5 230.5v4M694.5 414.5v-8M694.5 230.5v8M711.5 414.5v-4M711.5 230.5v4M727.5 414.5v-8M727.5 230.5v8M744.5 414.5v-4M744.5 230.5v4M761.5 414.5v-8M761.5 230.5v8M778.5 414.5v-4M778.5 230.5v4M795.5 414.5v-8M795.5 230.5v8M812.5 414.5v-4M812.5 230.5v4M828.5 414.5v-8M828.5 230.5v8M845.5 414.5v-4M845.5 230.5v4M862.5 414.5v-8M862.5 230.5v8M879.5 414.5v-4M879.5 230.5v4M896.5 414.5v-8M896.5 230.5v8M912.5 414.5v-4M912.5 230.5v4M929.5 414.5v-8M929.5 230.5v8M122.5 414.5h8M929.5 414.5h-8M122.5 391.5h8M929.5 391.5h-8M122.5 368.5h8M929.5 368.5h-8M122.5 345.5h8M929.5 345.5h-8M122.5 322.5h8M929.5 322.5h-8M122.5 299.5h8M929.5 299.5h-8M122.5 276.5h8M929.5 276.5h-8M122.5 253.5h8M929.5 253.5h-8M122.5 230.5h8M929.5 230.5h-8M122.5 403.5h4M929.5 403.5h-4M122.5 380.5h4M929.5 380.5h-4M122.5 357.5h4M929.5 357.5h-4M122.5 334.5h4M929.5 334.5h-4M122.5 311.5h4M929.5 311.5h-4M122.5 288.5h4M929.5 288.5h-4M122.5 265.5h4M929.5 265.5h-4M122.5 242.5h4M929.5 242.5h-4M122.5 230.5H929.5V414.5H122.5Z" stroke="#000" stroke-width="1" fill="none"/>
<g clip-path="url(#c3)">
<path d="M122.5 581.2L123.0 581.3L123.5 582.4L124.0 581.0L124.5 580.7L125.0 580.8L125.5 583.1L126.0 581.7L126.5 581.4L127.5 580.2L128.0 581.4L128.5 580.3L129.0 580.4L129.5 581.3L130.0 579.7L130.5 581.5L131.0 582.0L131.5 580.6L132.0 581.5L132.5 582.3L133.0 581.1L133.5 580.3L134.0 580.0L134.5 580.9L135.0 579.8L135.5 581.8L136.0 581.1L136.5 579.3L137.0 580.0L137.5 580.5L138.0 579.8L138.5 580.2L139.0 577.5L139.5 577.8L140.0 578.0L140.5 576.6L141.0 576.4L141.5 578.5L142.0 576.6L142.5 578.0L143.0 576.9L143.5 577.6L144.0 578.7L144.5 576.7L145.0 576.6L145.5 577.6L146.0 577.3L146.5 575.3L147.0 577.4L147.5 576.5L148.0 576.2L148.5 575.7L149.0 576.6L149.5 574.8L150.0 577.3L150.5 575.5L151.0 575.7L151.5 575.6L152.0 576.2L152.5 574.7L153.0 576.3L153.5 576.3L154.0 577.3L154.5 575.0L155.0 574.9L155.5 576.0L156.0 574.3L156.5 574.9L157.0 574.8L157.5 576.0L158.0 574.8L158.5 575.0L159.0 575.3L159.5 575.7L160.0 575.7L160.5 575.2L161.0 574.4L161.5 575.5L162.0 572.9L162.5 574.3L163.0 574.4L163.5 574.4L164.0 574.3L164.5 574.9L165.0 574.2L165.5 575.0L166.0 574.6L166.5 573.2L167.0 573.3L167.5 574.7L168.0 573.1L168.5 573.4L169.0 571.0L169.5 574.0L170.5 572.9L171.0 571.9L171.5 572.4L172.0 572.3L172.5 572.6L173.0 573.3L173.5 571.7L174.0 570.4L174.5 569.6L175.0 570.4L175.5 569.8L176.0 570.6L176.5 568.7L177.0 570.1L177.5 568.8L178.0 568.5L178.5 567.8L179.0 568.5L180.0 569.1L180.5 568.5L181.0 567.2L181.5 567.4L182.0 566.4L182.5 566.8L183.0 567.0L183.5 567.8L184.0 564.9L184.5 566.7L185.0 566.0L185.5 566.8L186.0 565.5L186.5 565.3L187.0 565.2L187.5 564.3L188.0 564.6L188.5 563.7L189.0 564.6L189.5 564.9L190.0 564.2L190.5 563.5L191.0 564.7L192.0 563.3L192.5 563.3L193.0 562.6L193.5 565.2L194.0 564.6L194.5 561.6L195.0 561.8L195.5 563.8L196.0 561.8L196.5 562.4L197.5 563.0L198.0 563.5L199.0 561.2L199.5 564.7L200.0 563.2L200.5 561.8L201.0 560.5L201.5 562.7L202.0 560.8L202.5 559.9L203.0 560.3L203.5 561.5L204.0 561.7L204.5 559.2L205.0 560.6L205.5 560.8L206.5 560.3L207.0 559.6L207.5 559.0L208.0 558.8L208.5 558.2L209.0 556.9L209.5 558.8L210.0 558.1L210.5 559.7L211.0 557.4L211.5 556.8L212.0 558.1L213.0 556.4L213.5 556.5L214.0 556.1L214.5 557.8L215.0 554.4L215.5 556.8L216.0 556.2L216.5 556.3L217.0 555.0L217.5 554.0L218.0 554.9L218.5 553.8L219.0 554.3L219.5 554.5L220.0 553.9L220.5 554.7L221.0 554.5L221.5 554.5L222.0 554.3L222.5 553.8L223.0 553.3L223.5 553.7L224.0 552.6L224.5 553.2L225.0 552.2L225.5 552.7L226.0 551.7L226.5 553.2L227.0 552.7L227.5 552.0L228.0 552.5L228.5 551.3L229.0 552.9L229.5 552.9L230.0 550.6L230.5 551.0L231.0 552.4L231.5 551.4L232.0 551.1L232.5 552.6L233.0 551.7L233.5 552.9L234.0 551.3L234.5 550.8L235.0 551.2L235.5 549.2L236.0 550.8L236.5 551.3L237.0 550.4L238.0 549.2L238.5 548.8L239.0 549.3L239.5 550.0L240.0 549.8L240.5 549.2L241.0 547.4L241.5 547.0L242.0 547.6L242.5 547.6L243.0 546.7L243.5 548.0L244.0 546.8L244.5 546.1L245.0 546.6L245.5 545.7L246.0 546.6L246.5 545.1L247.0 546.0L247.5 545.0L248.0 545.7L248.5 544.0L249.0 545.8L249.5 543.7L250.0 542.7L250.5 543.5L251.0 543.2L251.5 542.2L252.0 542.5L252.5 544.0L253.0 543.4L253.5 542.2L254.0 541.4L254.5 541.1L255.0 541.8L255.5 540.7L256.0 540.7L256.5 540.6L257.0 541.7L257.5 539.9L258.0 539.5L258.5 540.3L259.0 539.7L259.5 540.9L260.0 540.3L260.5 539.4L261.0 539.2L261.5 539.5L262.0 537.8L262.5 538.6L263.0 538.3L263.5 540.1L264.0 538.9L264.5 538.8L265.0 537.5L265.5 536.7L266.0 537.9L266.5 536.3L267.0 537.4L267.5 538.9L268.0 535.7L268.5 538.0L269.0 536.2L269.5 536.6L270.0 534.9L270.5 534.2L271.0 535.5L271.5 536.1L272.0 535.0L272.5 535.5L273.0 535.4L273.5 534.9L274.0 534.2L274.5 534.5L275.0 533.5L275.5 532.8L276.0 534.2L276.5 534.1L277.0 534.3L277.5 532.3L278.0 532.7L278.5 533.0L279.0 532.7L279.5 534.9L280.0 532.7L280.5 534.4L281.0 532.7L281.5 534.2L282.0 534.2L282.5 534.5L283.0 534.2L283.5 533.7L284.0 534.3L284.5 534.0L285.0 534.4L285.5 532.7L286.0 531.6L286.5 533.2L287.0 532.3L287.5 533.1L288.0 534.3L288.5 534.1L289.0 531.8L290.0 533.2L290.5 533.1L291.0 531.7L291.5 532.9L292.0 530.3L292.5 531.6L293.0 530.2L293.5 529.5L294.0 529.5L294.5 528.6L295.0 529.3L295.5 527.4L296.0 528.1L296.5 525.8L297.0 526.2L297.5 524.5L298.0 524.1L299.0 524.6L299.5 525.7L300.0 525.6L300.5 524.0L301.0 523.9L301.5 524.3L302.0 522.3L302.5 523.0L303.0 522.7L303.5 522.0L304.0 520.3L304.5 521.0L305.0 520.7L305.5 522.0L306.0 519.7L306.5 520.0L307.0 519.5L307.5 519.4L308.0 520.8L308.5 520.5L309.0 519.0L309.5 518.5L310.0 518.9L310.5 521.0L311.0 519.6L311.5 518.4L312.0 518.7L312.5 517.7L313.0 517.7L313.5 517.9L314.0 517.3L314.5 517.5L315.0 516.1L315.5 518.2L316.0 518.0L316.5 518.4L317.0 518.5L317.5 517.6L318.0 516.2L318.5 519.1L319.0 517.8L319.5 518.7L320.0 516.5L320.5 517.5L321.0 517.4L321.5 516.5L322.0 516.0L322.5 516.2L323.0 515.4L323.5 514.9L324.0 513.3L324.5 513.2L325.0 513.4L325.5 512.7L326.0 512.6L326.5 512.5L327.0 511.8L327.5 510.3L328.0 509.5L328.5 510.6L329.0 511.9L329.5 510.4L330.0 510.1L330.5 508.8L331.0 510.5L331.5 510.5L332.0 507.5L332.5 508.3L333.0 508.8L333.5 507.9L334.0 507.0L334.5 507.9L335.0 506.6L335.5 507.5L336.0 505.2L336.5 505.1L337.0 506.5L338.0 505.8L338.5 506.7L339.5 505.2L340.0 504.9L340.5 505.3L341.0 504.5L341.5 504.2L342.0 503.8L342.5 503.1L343.0 503.2L343.5 503.6L344.0 502.6L344.5 502.2L345.0 504.6L345.5 503.4L346.0 503.8L346.5 503.0L347.0 503.4L347.5 503.0L348.0 502.4L348.5 502.4L349.0 502.2L349.5 502.4L350.0 500.4L350.5 502.3L351.0 498.2L351.5 500.8L352.0 499.6L352.5 498.5L353.0 500.5L353.5 499.1L354.0 498.0L354.5 497.4L355.5 498.1L356.0 497.1L356.5 495.1L357.0 498.0L357.5 497.4L358.0 495.8L358.5 496.8L359.0 496.5L359.5 494.8L360.0 496.0L360.5 493.5L361.0 494.1L361.5 494.5L362.0 493.9L362.5 493.1L363.0 492.7L363.5 493.6L364.0 494.2L364.5 491.7L365.0 492.6L365.5 493.9L366.0 493.1L366.5 491.8L367.0 493.7L367.5 490.8L368.0 489.8L368.5 492.6L369.0 489.8L369.5 490.5L370.0 490.9L370.5 490.2L371.0 489.1L371.5 491.2L372.0 491.1L372.5 489.4L373.0 489.6L373.5 490.4L374.5 487.7L375.0 488.5L375.5 488.2L376.0 488.2L376.5 487.9L377.0 487.6L377.5 486.7L378.0 487.2L378.5 489.1L379.0 487.8L379.5 486.7L380.0 487.1L380.5 487.2L381.0 485.0L381.5 487.2L382.0 484.9L382.5 487.0L383.0 486.6L383.5 484.9L384.0 486.0L384.5 486.7L385.0 487.1L385.5 485.5L386.0 485.0L386.5 486.1L387.0 485.5L387.5 485.9L388.0 484.1L388.5 484.6L389.0 483.8L389.5 484.4L390.0 485.2L390.5 485.1L391.0 483.0L391.5 483.6L392.0 483.1L392.5 482.2L393.0 482.9L393.5 483.9L394.0 482.2L394.5 483.3L395.0 482.9L395.5 483.2L396.0 483.8L396.5 482.7L397.0 481.2L397.5 482.6L398.0 481.7L398.5 481.8L399.0 481.7L399.5 482.8L400.0 479.9L400.5 481.2L401.0 481.4L401.5 480.3L402.0 480.0L402.5 479.1L403.0 481.0L403.5 479.7L404.0 479.5L404.5 480.4L405.0 479.8L405.5 477.9L406.0 478.8L406.5 478.8L407.0 478.1L407.5 477.8L408.0 478.3L409.0 478.1L409.5 475.6L410.0 476.3L410.5 476.5L411.0 478.0L411.5 476.7L412.0 477.1L412.5 475.7L413.0 474.3L413.5 476.7L414.0 475.5L414.5 476.7L415.0 476.0L415.5 474.8L416.0 475.5L416.5 475.9L417.0 475.9L417.5 475.1L418.0 475.3L418.5 476.8L419.0 475.7L419.5 476.7L420.0 476.0L420.5 476.8L421.0 474.9L421.5 476.7L422.0 475.4L422.5 476.1L423.0 474.0L423.5 474.6L424.0 473.4L424.5 476.2L425.0 477.6L425.5 477.1L426.0 476.2L426.5 475.2L427.0 474.5L427.5 476.8L428.0 475.1L428.5 475.6L429.0 477.0L429.5 473.8L430.0 475.0L431.0 474.9L431.5 475.0L432.0 473.3L432.5 473.9L433.0 472.7L433.5 472.0L434.0 471.7L434.5 472.9L435.0 471.7L435.5 471.3L436.0 470.9L436.5 470.8L437.0 470.3L437.5 470.1L438.0 471.1L438.5 469.8L439.0 469.9L439.5 469.8L440.0 470.4L441.0 468.2L441.5 470.2L442.0 468.0L442.5 469.5L443.0 469.0L443.5 468.6L444.0 468.8L444.5 468.6L445.0 467.5L445.5 468.6L446.0 468.1L446.5 467.8L447.0 468.7L447.5 467.6L448.0 465.3L448.5 467.6L449.0 466.7L449.5 468.0L450.0 466.3L450.5 465.7L451.0 468.2L451.5 467.4L452.0 467.6L452.5 467.3L453.0 466.5L453.5 465.7L454.0 465.2L454.5 466.6L455.0 466.1L455.5 467.4L456.0 465.3L456.5 466.8L457.0 464.5L457.5 466.6L458.0 464.9L458.5 466.0L459.0 465.7L459.5 464.0L460.0 466.0L460.5 464.2L461.0 464.4L461.5 465.0L462.0 464.4L462.5 465.4L463.0 465.1L463.5 466.0L464.0 464.7L464.5 464.6L465.0 464.6L465.5 464.9L466.0 464.5L466.5 463.4L467.0 464.1L467.5 463.1L468.0 463.0L468.5 464.8L469.0 462.5L469.5 463.7L470.0 463.4L470.5 464.2L471.0 461.7L471.5 461.7L472.0 462.2L472.5 463.3L473.0 461.8L473.5 462.3L474.0 462.1L474.5 462.9L475.0 462.5L475.5 460.4L476.0 462.5L476.5 461.4L477.0 462.5L477.5 463.3L478.0 462.3L478.5 462.9L479.5 463.3L480.0 463.2L480.5 460.6L481.0 462.6L481.5 463.8L482.0 462.1L482.5 462.7L483.0 461.5L483.5 462.7L484.0 462.2L484.5 462.9L485.0 462.7L485.5 462.2L486.0 462.7L486.5 460.7L487.0 463.1L487.5 462.0L488.0 462.8L488.5 460.9L489.0 460.8L489.5 463.6L490.0 462.4L490.5 463.4L491.0 464.5L491.5 463.1L492.0 464.8L492.5 463.1L493.0 465.2L493.5 464.9L494.0 465.5L494.5 464.5L495.0 465.3L495.5 463.8L496.0 466.0L496.5 466.5L497.0 464.5L497.5 465.5L498.0 464.2L498.5 466.2L499.0 466.9L499.5 465.5L500.0 464.7L500.5 465.5L501.0 465.9L501.5 466.4L502.0 465.5L502.5 464.3L503.0 465.6L503.5 465.0L504.0 465.2L504.5 464.9L505.0 465.8L505.5 463.6L506.0 466.2L506.5 466.9L507.0 466.4L507.5 465.2L508.0 464.5L508.5 466.0L509.0 465.6L509.5 464.9L510.0 465.4L510.5 465.5L511.0 464.9L511.5 465.5L512.0 466.9L512.5 467.0L513.0 466.2L513.5 467.6L514.0 467.3L514.5 467.9L515.0 465.3L515.5 465.1L516.0 465.9L516.5 465.8L517.0 466.4L517.5 466.8L518.0 466.8L518.5 468.2L519.0 467.4L519.5 467.2L520.0 468.3L520.5 467.1L521.0 467.2L521.5 468.4L522.0 468.9L523.0 468.1L523.5 469.1L524.0 469.3L524.5 467.3L525.0 467.9L525.5 467.6L526.0 467.0L526.5 467.0L527.5 466.7L528.0 468.1L528.5 468.3L529.0 468.1L529.5 468.8L530.0 466.8L530.5 465.5L531.0 467.7L531.5 466.8L532.0 467.5L532.5 466.3L533.0 466.2L533.5 468.2L534.0 467.8L534.5 466.6L535.0 465.9L535.5 467.3L536.0 468.1L536.5 466.5L537.0 466.1L537.5 466.9L538.0 465.2L538.5 466.9L539.0 467.0L539.5 465.8L540.0 466.2L540.5 464.5L541.0 465.7L541.5 465.6L542.0 464.7L542.5 466.1L543.0 465.6L543.5 466.2L544.0 466.3L544.5 464.7L545.0 465.9L545.5 465.8L546.0 466.4L546.5 466.4L547.0 464.6L547.5 465.9L548.0 464.7L548.5 465.9L549.0 466.1L549.5 464.4L550.5 465.6L551.0 465.7L551.5 464.9L552.0 467.2L552.5 465.1L553.5 465.2L554.0 465.9L554.5 464.4L555.0 464.8L555.5 466.6L556.0 466.1L556.5 465.9L557.0 467.1L557.5 466.8L558.0 466.1L558.5 466.2L559.0 466.7L559.5 465.4L560.0 466.5L560.5 466.4L561.0 465.2L561.5 467.1L562.0 465.0L562.5 466.4L563.0 464.7L563.5 464.1L564.0 466.4L564.5 465.9L565.0 465.7L565.5 465.2L566.0 465.9L566.5 466.7L567.0 466.0L567.5 465.0L568.0 465.0L568.5 464.5L569.5 465.9L570.0 464.3L570.5 463.8L571.0 463.4L571.5 464.8L572.0 464.1L572.5 464.0L573.0 466.4L573.5 463.5L574.0 464.8L574.5 462.9L575.0 463.3L575.5 464.1L576.0 464.4L576.5 464.0L577.0 462.8L577.5 462.5L578.0 463.9L578.5 463.7L579.0 463.0L579.5 462.5L580.0 464.2L580.5 462.7L581.0 463.9L581.5 463.4L582.0 464.1L582.5 464.7L583.0 463.7L583.5 465.0L584.0 463.5L584.5 463.9L585.0 465.7L585.5 465.4L586.0 465.0L586.5 464.1L587.0 462.9L587.5 464.4L588.0 464.7L589.0 462.7L589.5 463.2L590.0 464.2L590.5 462.3L591.0 464.1L591.5 465.1L592.0 462.3L592.5 463.3L593.0 462.3L593.5 462.6L594.0 463.2L594.5 462.0L595.0 462.5L595.5 461.6L596.5 462.0L597.0 461.7L597.5 460.6L598.0 462.7L598.5 460.2L599.0 459.7L599.5 462.5L600.0 461.4L600.5 461.7L601.0 462.0L601.5 459.9L602.0 460.7L602.5 460.8L603.0 460.6L603.5 460.7L604.0 459.7L604.5 459.0L605.0 462.3L605.5 460.3L606.0 460.4L606.5 461.9L607.0 460.7L607.5 460.9L608.0 460.0L608.5 461.8L609.0 460.2L609.5 459.7L610.0 461.6L610.5 460.8L611.0 460.1L611.5 461.2L612.0 459.6L613.0 459.5L613.5 461.3L614.5 460.3L615.0 459.0L615.5 458.9L616.0 460.0L616.5 460.8L617.0 458.9L617.5 460.1L618.0 460.2L618.5 459.1L619.0 460.4L619.5 460.2L620.0 461.1L620.5 460.1L621.0 461.8L621.5 460.3L622.5 458.8L623.0 459.8L623.5 458.1L624.0 457.7L624.5 459.5L625.5 460.0L626.0 460.2L626.5 457.9L627.0 459.5L627.5 457.7L628.0 457.1L628.5 458.0L629.0 458.4L629.5 457.8L630.0 460.0L630.5 457.3L631.0 458.0L631.5 458.4L632.5 458.7L633.0 456.5L633.5 456.8L634.0 459.3L634.5 456.8L635.0 458.2L635.5 457.2L636.0 456.7L636.5 456.9L637.0 457.4L637.5 455.2L638.0 455.9L638.5 455.3L639.0 456.4L639.5 456.6L640.0 456.2L640.5 455.0L641.0 457.0L641.5 456.0L642.0 453.9L642.5 456.0L643.0 453.4L643.5 454.1L644.0 454.9L644.5 453.8L645.0 455.2L645.5 455.5L646.0 453.8L646.5 453.4L647.0 453.6L647.5 452.2L648.0 453.9L648.5 452.9L649.0 453.5L649.5 453.1L650.0 452.2L650.5 452.1L651.0 453.3L651.5 452.2L652.0 453.0L652.5 452.3L653.5 451.7L654.0 450.0L654.5 451.0L655.0 452.3L655.5 452.3L656.0 453.6L656.5 451.7L657.0 451.2L657.5 451.1L658.0 451.4L658.5 449.7L659.0 448.8L659.5 451.2L660.0 450.9L660.5 450.0L661.0 448.4L661.5 450.1L662.0 447.7L662.5 449.3L663.0 447.7L663.5 447.8L664.0 449.6L664.5 449.8L665.5 446.2L666.5 447.9L667.0 448.6L667.5 448.2L668.0 447.1L668.5 447.7L669.0 448.1L669.5 447.4L670.0 447.8L670.5 446.2L671.5 447.1L672.0 446.1L672.5 446.6L673.0 446.8L673.5 448.1L674.0 447.5L674.5 445.4L675.0 446.1L675.5 447.0L676.0 446.3L677.0 447.8L677.5 445.6L678.0 446.4L678.5 445.9L679.0 445.7L679.5 443.7L680.0 445.7L680.5 445.5L681.0 444.4L681.5 445.7L682.0 445.0L682.5 445.0L683.0 445.1L683.5 445.0L684.0 445.5L684.5 445.0L685.0 445.1L685.5 446.0L686.0 445.0L686.5 445.7L687.0 444.7L687.5 443.3L688.0 443.4L688.5 443.6L689.0 444.7L689.5 444.5L690.0 442.7L690.5 443.6L691.0 444.4L691.5 443.6L692.0 444.7L692.5 443.0L693.0 443.8L693.5 443.3L694.0 441.1L694.5 442.2L695.0 441.5L695.5 442.5L696.0 441.8L696.5 441.0L697.0 442.2L697.5 441.3L698.0 442.8L698.5 442.0L699.0 441.9L699.5 444.1L700.0 441.4L700.5 442.6L701.0 441.5L701.5 442.0L702.0 443.0L702.5 442.7L703.0 440.5L703.5 441.9L704.0 442.1L704.5 440.7L705.0 442.0L705.5 442.3L706.0 442.7L706.5 441.9L707.0 444.4L707.5 441.6L708.0 443.1L708.5 443.4L709.0 441.4L709.5 442.0L710.0 443.7L710.5 442.1L711.0 441.2L711.5 443.6L712.0 442.5L712.5 442.6L713.0 441.1L713.5 441.6L714.0 441.2L714.5 441.9L715.0 443.6L715.5 441.9L716.0 443.0L716.5 440.8L717.0 442.1L717.5 441.1L718.0 443.6L718.5 441.5L719.0 442.0L719.5 439.7L720.0 441.7L720.5 441.3L721.0 443.3L721.5 441.9L722.0 442.5L722.5 441.3L723.0 441.3L723.5 440.9L724.0 441.7L724.5 441.4L725.0 440.7L726.0 441.6L726.5 439.0L727.0 440.7L727.5 439.5L728.0 440.8L728.5 441.3L729.0 441.1L729.5 439.4L730.0 440.8L730.5 440.4L731.0 437.7L731.5 437.6L732.0 440.7L732.5 438.5L733.0 438.1L733.5 439.5L734.0 438.3L734.5 437.8L735.0 438.2L735.5 438.5L736.0 437.7L736.5 436.8L737.0 438.5L737.5 437.6L738.0 438.7L738.5 437.6L739.0 437.7L739.5 438.1L740.0 437.1L740.5 438.4L741.0 437.1L741.5 436.5L742.0 439.1L742.5 437.6L743.0 438.3L743.5 437.7L744.0 437.9L744.5 437.9L745.0 436.3L745.5 437.8L746.0 437.6L746.5 436.1L747.0 438.0L747.5 435.9L748.0 436.9L748.5 439.7L749.0 437.7L749.5 437.6L750.0 436.1L750.5 437.6L751.0 437.5L751.5 436.3L752.0 437.4L752.5 435.3L753.0 438.7L753.5 437.0L754.0 435.1L754.5 438.2L755.0 435.6L755.5 435.7L756.0 436.3L756.5 436.3L757.0 436.4L757.5 435.9L758.0 435.9L758.5 437.0L759.0 436.8L759.5 436.5L760.0 435.4L760.5 437.3L761.0 436.5L761.5 435.9L762.0 435.2L762.5 435.8L763.0 437.2L763.5 434.3L764.0 434.6L764.5 435.3L765.0 435.9L765.5 435.6L766.0 434.2L766.5 433.9L767.0 435.6L768.0 434.4L768.5 434.3L769.0 433.8L769.5 433.4L770.0 434.4L770.5 433.4L771.0 432.7L771.5 434.6L772.0 433.2L772.5 435.7L773.0 434.5L773.5 434.3L774.0 435.4L774.5 434.0L775.0 435.2L775.5 434.9L776.0 434.0L777.0 433.0L777.5 433.1L778.0 431.9L778.5 433.6L779.0 434.1L779.5 433.9L780.0 434.2L780.5 431.6L781.0 433.6L781.5 433.8L782.0 433.3L782.5 432.3L783.5 434.2L784.0 432.0L784.5 430.5L785.0 433.6L785.5 432.1L786.0 431.8L786.5 432.1L787.0 431.6L787.5 431.7L788.0 430.3L788.5 430.7L789.0 431.5L789.5 432.7L790.0 433.0L790.5 431.2L791.0 431.8L791.5 430.5L792.0 431.9L792.5 430.4L793.0 431.1L793.5 431.1L794.0 432.0L794.5 429.8L795.0 430.5L795.5 432.4L796.0 430.6L796.5 429.4L797.0 428.9L797.5 429.9L798.0 431.2L798.5 430.1L799.0 430.6L799.5 430.8L800.0 430.2L800.5 429.1L801.0 429.7L801.5 430.1L802.0 429.6L802.5 431.8L803.0 430.3L803.5 431.0L804.0 430.5L804.5 431.5L805.0 431.5L805.5 431.7L806.0 430.5L806.5 431.1L807.0 431.1L807.5 432.1L808.0 432.0L808.5 429.7L809.0 431.9L809.5 433.0L810.0 432.0L810.5 430.8L811.0 431.8L811.5 431.7L812.0 430.1L812.5 430.2L813.0 430.1L813.5 430.3L814.0 429.3L814.5 430.2L815.0 428.6L815.5 428.8L816.0 428.8L816.5 429.8L817.0 430.6L817.5 430.1L818.0 429.0L818.5 432.0L819.0 429.2L819.5 432.5L820.0 429.5L820.5 430.6L821.0 430.8L821.5 429.7L822.0 430.8L822.5 431.7L823.0 430.1L823.5 430.6L824.0 429.4L825.0 431.4L825.5 430.6L826.0 429.4L826.5 430.9L827.0 431.0L827.5 430.9L828.0 431.9L828.5 432.7L829.0 429.7L829.5 432.1L830.0 430.7L830.5 432.2L831.0 430.1L831.5 427.8L832.0 429.7L832.5 430.3L833.0 429.4L833.5 429.0L834.0 429.5L834.5 431.0L835.0 430.2L835.5 429.1L836.0 428.7L836.5 431.4L837.0 428.5L837.5 431.2L838.0 430.9L838.5 428.4L839.0 429.3L839.5 429.1L840.0 429.1L840.5 429.5L841.0 431.2L841.5 429.9L842.0 427.7L842.5 428.5L843.0 430.0L843.5 428.9L844.0 428.7L844.5 430.2L845.0 429.7L845.5 430.8L846.0 431.0L846.5 430.5L847.0 431.5L847.5 428.6L848.0 429.6L848.5 429.7L849.0 431.8L849.5 430.8L850.0 430.6L850.5 429.7L851.0 431.0L851.5 430.6L852.0 430.4L852.5 431.5L853.0 430.6L853.5 430.5L854.0 431.1L854.5 429.6L855.0 432.7L855.5 429.8L856.0 431.8L856.5 430.3L857.0 431.5L857.5 431.9L858.5 431.1L859.0 431.8L859.5 431.1L860.0 431.2L860.5 429.8L861.0 430.3L861.5 430.7L862.0 431.3L862.5 433.0L863.0 430.7L864.0 431.6L864.5 433.3L865.0 432.5L865.5 433.2L866.5 433.9L867.0 431.8L867.5 431.4L868.0 433.0L868.5 431.9L869.0 433.5L869.5 432.6L870.0 431.0L870.5 431.0L871.0 431.2L871.5 430.9L872.0 432.4L872.5 429.9L873.0 431.9L873.5 430.5L874.0 432.6L875.0 431.2L875.5 432.1L876.0 432.3L876.5 430.8L877.0 432.3L877.5 430.3L878.0 430.9L878.5 432.2L879.0 431.2L879.5 432.0L880.0 430.9L880.5 431.1L881.0 431.6L881.5 431.7L882.0 433.7L882.5 432.1L883.0 431.4L883.5 433.7L884.0 432.2L884.5 432.2L885.0 432.4L885.5 431.5L886.0 431.9L886.5 431.5L887.0 432.3L887.5 432.5L888.0 431.2L888.5 433.0L889.0 431.4L889.5 433.2L890.0 431.7L890.5 431.1L891.0 431.7L891.5 433.5L892.0 430.7L892.5 431.7L893.0 430.7L893.5 431.6L894.0 431.5L894.5 430.9L895.0 429.8L895.5 430.6L896.0 431.2L896.5 430.5L897.0 431.9L897.5 432.2L898.0 432.0L898.5 431.4L899.0 431.4L899.5 431.6L900.0 430.5L900.5 431.5L901.0 432.1L901.5 432.4L902.0 431.3L902.5 431.8L903.0 430.6L903.5 431.0L904.0 430.1L904.5 430.7L905.0 430.5L905.5 429.7L906.0 429.6L906.5 432.5L907.0 429.7L907.5 430.2L908.0 429.9L908.5 430.2L909.0 429.2L909.5 429.9L910.0 429.5L910.5 429.1L911.0 429.0L911.5 428.3L912.0 429.1L912.5 429.7L913.0 428.7L913.5 428.9L914.5 426.7L915.0 428.6L915.5 428.6L916.0 426.4L916.5 429.7L917.0 427.3L917.5 429.0L918.0 428.7L918.5 427.8L919.0 429.8L919.5 429.0L920.0 429.4L920.5 429.4L921.0 428.7L921.5 429.2L922.0 430.5L922.5 430.0L923.0 430.4L923.5 430.9L924.0 429.6L924.5 431.0L925.0 430.7L925.5 432.0L926.0 431.0L926.5 433.3L927.0 430.7L927.5 431.4L928.0 430.7L928.5 430.8L929.0 431.3L929.5 432.0" stroke="#9a9a9a" stroke-width="1.1" fill="none" stroke-linejoin="bevel" stroke-linecap="butt"/>
</g>
<path d="M122.5 599.5v-8M122.5 414.5v8M139.5 599.5v-4M139.5 414.5v4M156.5 599.5v-8M156.5 414.5v8M173.5 599.5v-4M173.5 414.5v4M189.5 599.5v-8M189.5 414.5v8M206.5 599.5v-4M206.5 414.5v4M223.5 599.5v-8M223.5 414.5v8M240.5 599.5v-4M240.5 414.5v4M257.5 599.5v-8M257.5 414.5v8M274.5 599.5v-4M274.5 414.5v4M290.5 599.5v-8M290.5 414.5v8M307.5 599.5v-4M307.5 414.5v4M324.5 599.5v-8M324.5 414.5v8M341.5 599.5v-4M341.5 414.5v4M358.5 599.5v-8M358.5 414.5v8M374.5 599.5v-4M374.5 414.5v4M391.5 599.5v-8M391.5 414.5v8M408.5 599.5v-4M408.5 414.5v4M425.5 599.5v-8M425.5 414.5v8M442.5 599.5v-4M442.5 414.5v4M458.5 599.5v-8M458.5 414.5v8M475.5 599.5v-4M475.5 414.5v4M492.5 599.5v-8M492.5 414.5v8M509.5 599.5v-4M509.5 414.5v4M526.5 599.5v-8M526.5 414.5v8M543.5 599.5v-4M543.5 414.5v4M559.5 599.5v-8M559.5 414.5v8M576.5 599.5v-4M576.5 414.5v4M593.5 599.5v-8M593.5 414.5v8M610.5 599.5v-4M610.5 414.5v4M627.5 599.5v-8M627.5 414.5v8M643.5 599.5v-4M643.5 414.5v4M660.5 599.5v-8M660.5 414.5v8M677.5 599.5v-4M677.5 414.5v4M694.5 599.5v-8M694.5 414.5v8M711.5 599.5v-4M711.5 414.5v4M727.5 599.5v-8M727.5 414.5v8M744.5 599.5v-4M744.5 414.5v4M761.5 599.5v-8M761.5 414.5v8M778.5 599.5v-4M778.5 414.5v4M795.5 599.5v-8M795.5 414.5v8M812.5 599.5v-4M812.5 414.5v4M828.5 599.5v-8M828.5 414.5v8M845.5 599.5v-4M845.5 414.5v4M862.5 599.5v-8M862.5 414.5v8M879.5 599.5v-4M879.5 414.5v4M896.5 599.5v-8M896.5 414.5v8M912.5 599.5v-4M912.5 414.5v4M929.5 599.5v-8M929.5 414.5v8M122.5 414.5h8M929.5 414.5h-8M122.5 433.5h8M929.5 433.5h-8M122.5 451.5h8M929.5 451.5h-8M122.5 470.5h8M929.5 470.5h-8M122.5 488.5h8M929.5 488.5h-8M122.5 507.5h8M929.5 507.5h-8M122.5 525.5h8M929.5 525.5h-8M122.5 544.5h8M929.5 544.5h-8M122.5 562.5h8M929.5 562.5h-8M122.5 581.5h8M929.5 581.5h-8M122.5 599.5h8M929.5 599.5h-8M122.5 423.5h4M929.5 423.5h-4M122.5 442.5h4M929.5 442.5h-4M122.5 460.5h4M929.5 460.5h-4M122.5 479.5h4M929.5 479.5h-4M122.5 497.5h4M929.5 497.5h-4M122.5 516.5h4M929.5 516.5h-4M122.5 534.5h4M929.5 534.5h-4M122.5 553.5h4M929.5 553.5h-4M122.5 571.5h4M929.5 571.5h-4M122.5 590.5h4M929.5 590.5h-4M122.5 414.5H929.5V599.5H122.5Z" stroke="#000" stroke-width="1" fill="none"/>
<text x="113.2" y="51" text-anchor="end" font-size="17" textLength="45" lengthAdjust="spacingAndGlyphs">79.00</text>
<text x="113.2" y="82" text-anchor="end" font-size="17" textLength="45" lengthAdjust="spacingAndGlyphs">78.00</text>
<text x="113.2" y="113" text-anchor="end" font-size="17" textLength="45" lengthAdjust="spacingAndGlyphs">77.00</text>
<text x="113.2" y="143" text-anchor="end" font-size="17" textLength="45" lengthAdjust="spacingAndGlyphs">76.00</text>
<text x="113.2" y="174" text-anchor="end" font-size="17" textLength="45" lengthAdjust="spacingAndGlyphs">75.00</text>
<text x="113.2" y="205" text-anchor="end" font-size="17" textLength="45" lengthAdjust="spacingAndGlyphs">74.00</text>
<text x="113.2" y="236" text-anchor="end" font-size="17" textLength="45" lengthAdjust="spacingAndGlyphs">73.00</text>
<text x="113.2" y="420" text-anchor="end" font-size="17" textLength="35" lengthAdjust="spacingAndGlyphs">0.00</text>
<text x="113.2" y="397" text-anchor="end" font-size="17" textLength="45" lengthAdjust="spacingAndGlyphs">10.00</text>
<text x="113.2" y="374" text-anchor="end" font-size="17" textLength="45" lengthAdjust="spacingAndGlyphs">20.00</text>
<text x="113.2" y="351" text-anchor="end" font-size="17" textLength="45" lengthAdjust="spacingAndGlyphs">30.00</text>
<text x="113.2" y="328" text-anchor="end" font-size="17" textLength="45" lengthAdjust="spacingAndGlyphs">40.00</text>
<text x="113.2" y="305" text-anchor="end" font-size="17" textLength="45" lengthAdjust="spacingAndGlyphs">50.00</text>
<text x="113.2" y="282" text-anchor="end" font-size="17" textLength="45" lengthAdjust="spacingAndGlyphs">60.00</text>
<text x="113.2" y="259" text-anchor="end" font-size="17" textLength="45" lengthAdjust="spacingAndGlyphs">70.00</text>
<text x="113.2" y="236" text-anchor="end" font-size="17" textLength="45" lengthAdjust="spacingAndGlyphs">80.00</text>
<text x="113.2" y="420" text-anchor="end" font-size="17" textLength="45" lengthAdjust="spacingAndGlyphs">29.95</text>
<text x="113.2" y="439" text-anchor="end" font-size="17" textLength="45" lengthAdjust="spacingAndGlyphs">29.90</text>
<text x="113.2" y="457" text-anchor="end" font-size="17" textLength="45" lengthAdjust="spacingAndGlyphs">29.85</text>
<text x="113.2" y="476" text-anchor="end" font-size="17" textLength="45" lengthAdjust="spacingAndGlyphs">29.80</text>
<text x="113.2" y="494" text-anchor="end" font-size="17" textLength="45" lengthAdjust="spacingAndGlyphs">29.75</text>
<text x="113.2" y="513" text-anchor="end" font-size="17" textLength="45" lengthAdjust="spacingAndGlyphs">29.70</text>
<text x="113.2" y="531" text-anchor="end" font-size="17" textLength="45" lengthAdjust="spacingAndGlyphs">29.65</text>
<text x="113.2" y="550" text-anchor="end" font-size="17" textLength="45" lengthAdjust="spacingAndGlyphs">29.60</text>
<text x="113.2" y="568" text-anchor="end" font-size="17" textLength="45" lengthAdjust="spacingAndGlyphs">29.55</text>
<text x="113.2" y="587" text-anchor="end" font-size="17" textLength="45" lengthAdjust="spacingAndGlyphs">29.50</text>
<text x="113.2" y="605" text-anchor="end" font-size="17" textLength="45" lengthAdjust="spacingAndGlyphs">29.45</text>
<text x="122.7" y="623.8" text-anchor="middle" font-size="17" textLength="19.7" lengthAdjust="spacingAndGlyphs">00</text>
<text x="156.7" y="623.8" text-anchor="middle" font-size="17" textLength="19.7" lengthAdjust="spacingAndGlyphs">01</text>
<text x="189.7" y="623.8" text-anchor="middle" font-size="17" textLength="19.7" lengthAdjust="spacingAndGlyphs">02</text>
<text x="223.7" y="623.8" text-anchor="middle" font-size="17" textLength="19.7" lengthAdjust="spacingAndGlyphs">03</text>
<text x="257.7" y="623.8" text-anchor="middle" font-size="17" textLength="19.7" lengthAdjust="spacingAndGlyphs">04</text>
<text x="290.7" y="623.8" text-anchor="middle" font-size="17" textLength="19.7" lengthAdjust="spacingAndGlyphs">05</text>
<text x="324.7" y="623.8" text-anchor="middle" font-size="17" textLength="19.7" lengthAdjust="spacingAndGlyphs">06</text>
<text x="358.7" y="623.8" text-anchor="middle" font-size="17" textLength="19.7" lengthAdjust="spacingAndGlyphs">07</text>
<text x="391.7" y="623.8" text-anchor="middle" font-size="17" textLength="19.7" lengthAdjust="spacingAndGlyphs">08</text>
<text x="425.7" y="623.8" text-anchor="middle" font-size="17" textLength="19.7" lengthAdjust="spacingAndGlyphs">09</text>
<text x="458.7" y="623.8" text-anchor="middle" font-size="17" textLength="19.7" lengthAdjust="spacingAndGlyphs">10</text>
<text x="492.7" y="623.8" text-anchor="middle" font-size="17" textLength="19.7" lengthAdjust="spacingAndGlyphs">11</text>
<text x="526.7" y="623.8" text-anchor="middle" font-size="17" textLength="19.7" lengthAdjust="spacingAndGlyphs">12</text>
<text x="559.7" y="623.8" text-anchor="middle" font-size="17" textLength="19.7" lengthAdjust="spacingAndGlyphs">13</text>
<text x="593.7" y="623.8" text-anchor="middle" font-size="17" textLength="19.7" lengthAdjust="spacingAndGlyphs">14</text>
<text x="627.7" y="623.8" text-anchor="middle" font-size="17" textLength="19.7" lengthAdjust="spacingAndGlyphs">15</text>
<text x="660.7" y="623.8" text-anchor="middle" font-size="17" textLength="19.7" lengthAdjust="spacingAndGlyphs">16</text>
<text x="694.7" y="623.8" text-anchor="middle" font-size="17" textLength="19.7" lengthAdjust="spacingAndGlyphs">17</text>
<text x="727.7" y="623.8" text-anchor="middle" font-size="17" textLength="19.7" lengthAdjust="spacingAndGlyphs">18</text>
<text x="761.7" y="623.8" text-anchor="middle" font-size="17" textLength="19.7" lengthAdjust="spacingAndGlyphs">19</text>
<text x="795.7" y="623.8" text-anchor="middle" font-size="17" textLength="19.7" lengthAdjust="spacingAndGlyphs">20</text>
<text x="828.7" y="623.8" text-anchor="middle" font-size="17" textLength="19.7" lengthAdjust="spacingAndGlyphs">21</text>
<text x="862.7" y="623.8" text-anchor="middle" font-size="17" textLength="19.7" lengthAdjust="spacingAndGlyphs">22</text>
<text x="896.7" y="623.8" text-anchor="middle" font-size="17" textLength="19.7" lengthAdjust="spacingAndGlyphs">23</text>
<text x="929.7" y="623.8" text-anchor="middle" font-size="17" textLength="19.7" lengthAdjust="spacingAndGlyphs">00</text>
<text x="526.6" y="23.9" text-anchor="middle" font-size="17" textLength="448" lengthAdjust="spacingAndGlyphs">Science Center L Wing environment status (2024-12-06)</text>
<text x="526" y="650.8" text-anchor="middle" font-size="17" textLength="70.5" lengthAdjust="spacingAndGlyphs">time (hr)</text>
<text x="33.3" y="137.5" text-anchor="middle" font-size="17" textLength="100.6" lengthAdjust="spacingAndGlyphs" transform="rotate(-90 33.3 137.5)">temperature</text>
<text x="51.3" y="137.5" text-anchor="middle" font-size="17" textLength="57" lengthAdjust="spacingAndGlyphs" transform="rotate(-90 51.3 137.5)">(deg F)</text>
<text x="33.3" y="321.8" text-anchor="middle" font-size="17" textLength="136.2" lengthAdjust="spacingAndGlyphs" transform="rotate(-90 33.3 321.8)">relative humidity</text>
<text x="51.3" y="322.6" text-anchor="middle" font-size="17" textLength="37.7" lengthAdjust="spacingAndGlyphs" transform="rotate(-90 51.3 322.6)">(pct)</text>
<text x="33.3" y="507.1" text-anchor="middle" font-size="17" textLength="161.8" lengthAdjust="spacingAndGlyphs" transform="rotate(-90 33.3 507.1)">barometric pressure</text>
<text x="51.3" y="507.2" text-anchor="middle" font-size="17" textLength="54.4" lengthAdjust="spacingAndGlyphs" transform="rotate(-90 51.3 507.2)">(in Hg)</text>
<text x="236.6" y="689.8" text-anchor="end" font-size="17" textLength="64.6" lengthAdjust="spacingAndGlyphs">enviro-1</text>
<path d="M247.5 684.5h47" stroke="#9400d3" stroke-width="2"/>
<text x="236.6" y="708.3" text-anchor="end" font-size="17" textLength="64.6" lengthAdjust="spacingAndGlyphs">enviro-2</text>
<path d="M247.5 702.5h47" stroke="#009e73" stroke-width="2"/>
<text x="384.5" y="689.8" text-anchor="end" font-size="17" textLength="64.6" lengthAdjust="spacingAndGlyphs">enviro-3</text>
<path d="M395.4 684.5h47" stroke="#56b4e9" stroke-width="2"/>
<text x="384.5" y="708.3" text-anchor="end" font-size="17" textLength="64.6" lengthAdjust="spacingAndGlyphs">enviro-4</text>
<path d="M395.4 702.5h47" stroke="#e69f00" stroke-width="2"/>
<text x="532.4" y="689.8" text-anchor="end" font-size="17" textLength="64.6" lengthAdjust="spacingAndGlyphs">enviro-5</text>
<path d="M543.3 684.5h47" stroke="#f0e442" stroke-width="2"/>
<text x="532.4" y="708.3" text-anchor="end" font-size="17" textLength="64.6" lengthAdjust="spacingAndGlyphs">enviro-6</text>
<path d="M543.3 702.5h47" stroke="#0072b2" stroke-width="2"/>
<text x="680.3" y="689.8" text-anchor="end" font-size="17" textLength="64.6" lengthAdjust="spacingAndGlyphs">enviro-7</text>
<path d="M691.2 684.5h47" stroke="#e51e10" stroke-width="2"/>
<text x="680.3" y="708.3" text-anchor="end" font-size="17" textLength="64.6" lengthAdjust="spacingAndGlyphs">enviro-8</text>
<path d="M691.2 702.5h47" stroke="#000000" stroke-width="2"/>
<text x="826.7" y="689.8" text-anchor="end" font-size="17" textLength="50.3" lengthAdjust="spacingAndGlyphs">indoor</text>
<path d="M837.6 684.5h47" stroke="#a0a0a0" stroke-width="1"/>
</svg>
</body></html>
